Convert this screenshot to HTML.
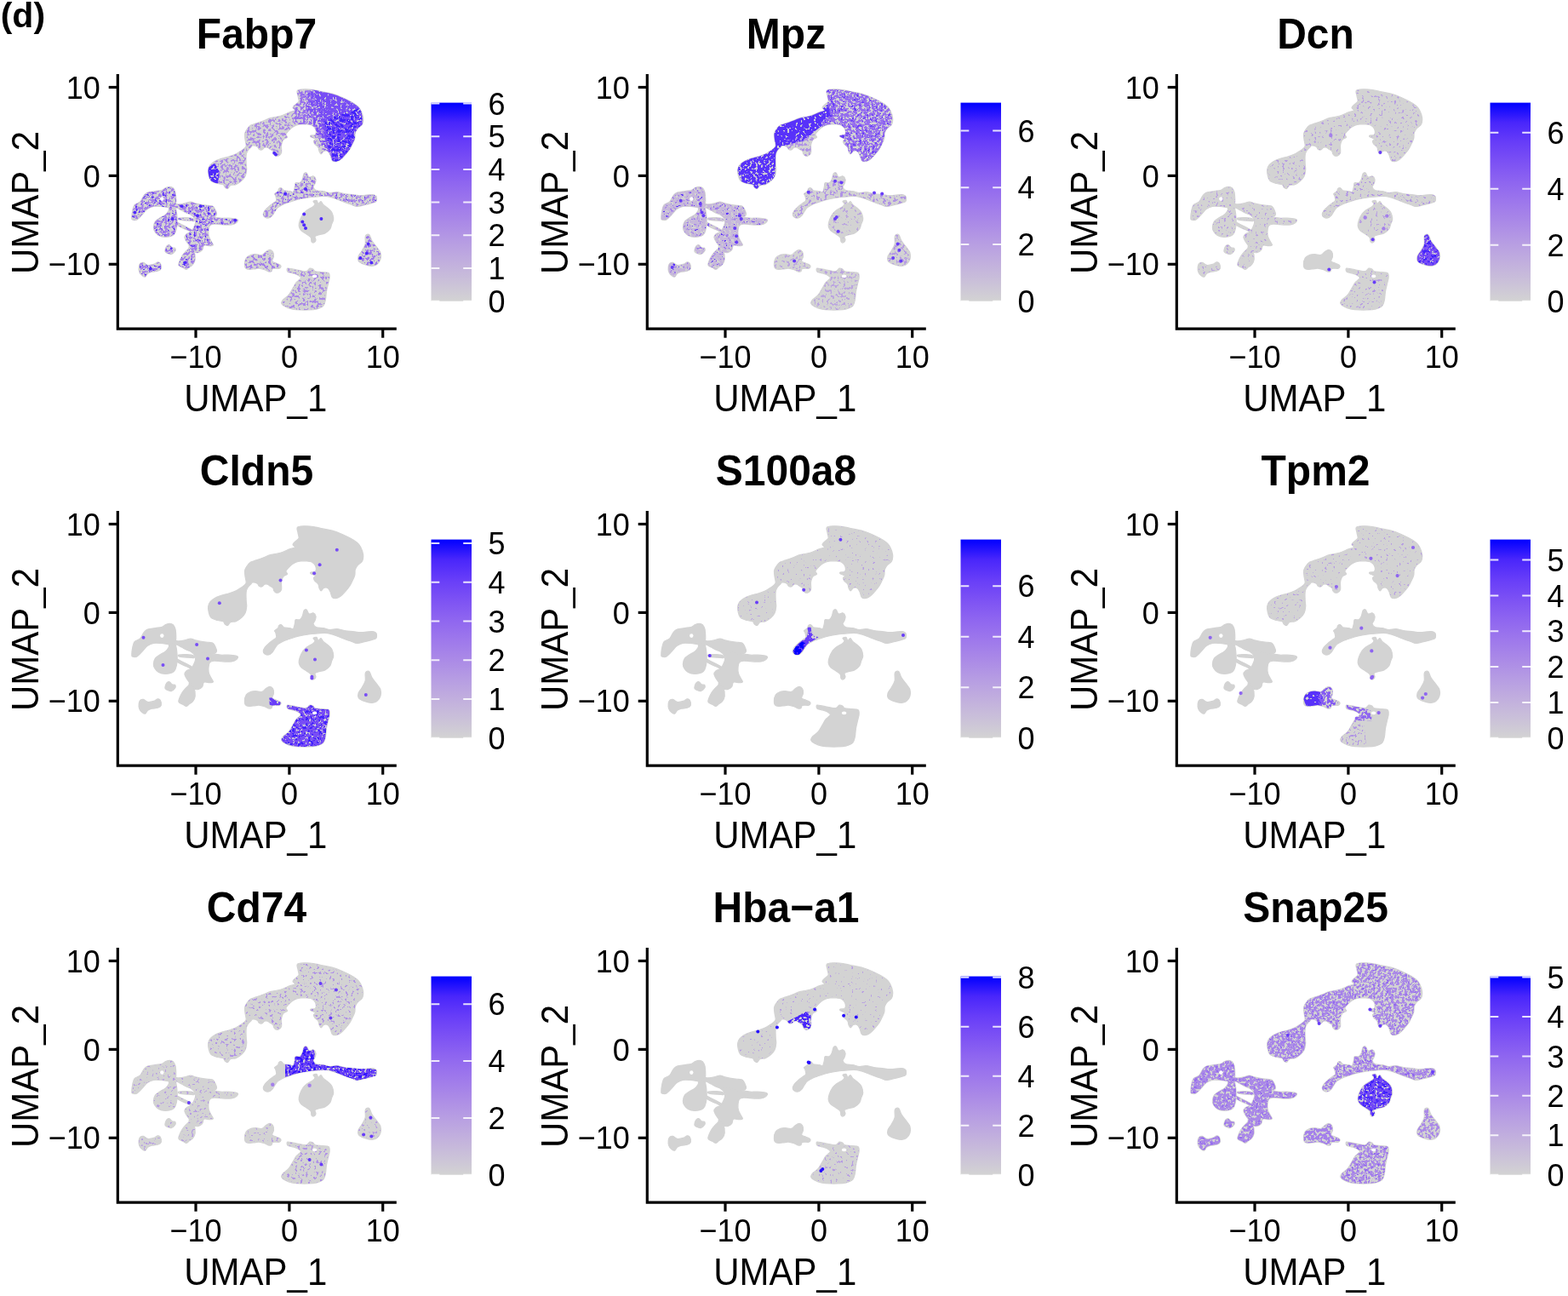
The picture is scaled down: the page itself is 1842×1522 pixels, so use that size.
<!DOCTYPE html>
<html><head><meta charset="utf-8"><title>UMAP feature plots</title>
<style>
html,body{margin:0;padding:0;background:#fff;overflow:hidden}
svg{display:block}
text{font-family:"Liberation Sans",Arial,sans-serif;fill:#000}
.t{font-size:48px;font-weight:bold;text-anchor:middle}
.tk{font-size:36px}
.at{font-size:42px}
.ax{stroke:#000;stroke-width:3.2;fill:none;stroke-linecap:butt}
.cbt{stroke:#fff;stroke-width:2;opacity:.85}
</style></head><body>
<svg width="1842" height="1522" viewBox="0 0 1842 1522">
<defs>
<linearGradient id="cbg" x1="0" y1="1" x2="0" y2="0"><stop offset="0.00" stop-color="#d3d3d3"/><stop offset="0.10" stop-color="#cac0d9"/><stop offset="0.20" stop-color="#c1aede"/><stop offset="0.30" stop-color="#b69ce3"/><stop offset="0.40" stop-color="#aa89e7"/><stop offset="0.50" stop-color="#9d77ec"/><stop offset="0.60" stop-color="#8e65f0"/><stop offset="0.70" stop-color="#7c51f4"/><stop offset="0.80" stop-color="#673df8"/><stop offset="0.90" stop-color="#4926fb"/><stop offset="1.00" stop-color="#0000ff"/></linearGradient>
<path id="s_top" d="M350.0 105.9C352.4 104.7 359.6 104.7 364.1 105.0C368.6 105.3 372.9 106.6 377.2 107.5C381.5 108.4 386.0 109.0 390.2 110.2C394.4 111.4 398.5 113.0 402.1 114.5C405.7 116.0 409.0 117.8 411.9 119.4C414.8 121.0 417.5 122.6 419.5 124.3C421.5 126.0 422.6 127.3 423.8 129.7C425.0 132.0 426.3 135.7 426.6 138.4C426.9 141.1 426.5 144.0 425.5 146.0C424.5 148.0 422.0 148.8 420.6 150.4C419.2 152.0 417.9 153.8 417.3 155.8C416.7 157.8 417.3 160.1 416.8 162.3C416.3 164.5 415.1 166.6 414.1 168.8C413.1 171.0 412.2 173.1 410.8 175.3C409.4 177.5 407.2 179.9 405.4 181.9C403.6 183.9 401.8 186.0 400.0 187.3C398.2 188.6 396.1 189.5 394.5 189.7C392.9 189.9 391.3 189.7 390.2 188.4C389.1 187.1 388.9 183.7 388.0 181.9C387.1 180.1 386.1 178.2 384.8 177.5C383.5 176.8 381.7 176.9 380.4 177.5C379.1 178.1 378.1 180.8 377.2 180.8C376.3 180.8 375.6 178.8 375.0 177.5C374.4 176.2 374.8 174.6 373.9 173.2C373.0 171.8 370.5 170.1 369.6 168.8C368.7 167.5 368.3 166.5 368.5 165.6C368.7 164.7 371.2 164.2 370.6 163.4C370.1 162.6 366.1 161.4 365.2 160.7C364.3 160.0 364.3 159.5 365.2 159.1C366.1 158.7 369.7 159.3 370.6 158.0C371.5 156.7 371.3 153.3 370.6 151.5C369.9 149.7 367.9 148.0 366.3 147.1C364.7 146.2 363.1 146.2 360.9 146.0C358.7 145.8 355.5 145.8 353.3 146.0C351.1 146.2 349.6 146.4 347.8 147.1C346.0 147.8 344.0 149.1 342.4 150.4C340.8 151.7 339.2 153.4 338.1 154.7C337.0 156.0 336.0 156.9 335.9 158.0C335.8 159.1 337.9 160.3 337.5 161.2C337.1 162.1 334.7 162.5 333.7 163.4C332.7 164.3 332.0 165.4 331.5 166.7C331.0 168.0 330.7 168.8 330.5 171.0C330.3 173.2 331.1 177.7 330.5 179.7C329.9 181.7 328.3 182.4 327.2 182.9C326.1 183.4 324.8 183.2 323.9 182.9C323.0 182.6 322.3 181.7 321.8 180.8C321.3 179.9 321.4 178.4 320.7 177.5C320.0 176.6 318.5 176.0 317.4 175.3C316.3 174.6 315.3 173.5 314.2 173.2C313.1 172.8 312.0 172.8 310.9 173.2C309.8 173.6 308.8 175.6 307.7 175.9C306.6 176.2 305.3 175.9 304.4 175.3C303.5 174.7 303.5 172.8 302.2 172.1C300.9 171.4 298.1 170.8 296.8 171.0C295.5 171.2 295.5 172.3 294.6 173.2C293.7 174.1 292.3 174.9 291.4 176.4C290.5 177.9 289.6 179.2 289.2 181.9C288.8 184.6 289.1 189.8 289.2 192.7C289.3 195.6 289.9 196.8 289.7 199.2C289.5 201.5 289.1 204.6 288.1 206.8C287.1 209.0 285.6 210.7 283.8 212.3C282.0 213.9 279.5 215.7 277.3 216.6C275.1 217.5 272.3 216.9 270.7 217.7C269.1 218.5 268.6 221.1 267.5 221.5C266.4 221.9 265.1 220.7 264.2 219.9C263.3 219.1 263.6 217.3 262.1 216.6C260.7 215.9 257.9 216.2 255.5 215.5C253.1 214.8 249.6 213.9 247.9 212.3C246.2 210.7 245.7 207.9 245.2 205.7C244.7 203.5 244.4 201.2 244.7 199.2C245.0 197.2 245.6 195.4 246.9 193.8C248.2 192.2 250.1 190.8 252.3 189.5C254.5 188.2 257.2 187.1 259.9 186.2C262.6 185.3 265.7 184.9 268.6 184.0C271.5 183.1 275.0 181.9 277.3 180.8C279.6 179.7 281.1 178.6 282.7 177.5C284.3 176.4 285.9 175.4 287.0 174.3C288.1 173.2 289.0 172.6 289.2 171.0C289.4 169.4 288.4 166.8 288.1 164.5C287.8 162.2 287.2 159.1 287.6 156.9C288.0 154.7 289.1 153.1 290.3 151.5C291.5 149.9 292.8 148.2 294.6 147.1C296.4 146.0 298.6 145.8 301.1 144.9C303.6 144.0 306.9 142.8 309.8 141.7C312.7 140.6 315.2 139.3 318.5 138.4C321.8 137.5 325.8 137.4 329.4 136.3C333.0 135.2 337.3 133.0 340.2 131.9C343.1 130.8 346.1 130.6 346.7 129.7C347.3 128.8 343.8 127.8 344.0 126.5C344.2 125.2 346.6 123.4 347.8 122.1C349.0 120.8 350.7 120.5 351.1 118.9C351.5 117.3 350.2 114.6 350.0 112.4C349.8 110.2 347.6 107.1 350.0 105.9Z"/><path id="s_L_arch" d="M154.8 256.2C154.8 254.4 155.2 249.9 155.8 247.3C156.4 244.7 156.7 242.1 158.2 240.4C159.7 238.7 162.9 238.8 164.7 237.0C166.5 235.2 167.6 231.4 169.1 229.6C170.6 227.8 171.3 226.9 173.5 226.1C175.7 225.3 179.6 225.1 182.4 224.6C185.2 224.1 188.2 223.9 190.3 223.2C192.4 222.5 193.4 220.8 195.2 220.2C197.0 219.6 199.4 219.2 201.1 219.7C202.8 220.2 204.2 221.5 205.1 223.2C206.0 224.8 206.3 226.9 206.5 229.6C206.7 232.3 206.9 237.1 206.5 239.4C206.1 241.7 205.2 242.6 204.1 243.4C203.0 244.2 201.4 244.3 200.1 244.3C198.8 244.3 198.2 243.7 196.2 243.4C194.2 243.1 190.9 242.6 188.3 242.4C185.7 242.2 182.9 241.9 180.4 242.4C177.9 242.9 175.5 244.0 173.5 245.3C171.5 246.6 169.9 248.9 168.6 250.3C167.3 251.7 166.9 252.4 165.6 253.7C164.3 255.0 162.3 257.4 160.7 258.1C159.1 258.8 156.8 258.4 155.8 258.1C154.8 257.8 154.8 258.0 154.8 256.2Z"/><path id="s_L_bulb" d="M180.4 267.0C180.5 265.0 181.2 261.9 182.4 260.1C183.6 258.3 185.3 257.5 187.3 256.2C189.3 254.9 192.4 253.7 194.2 252.2C196.0 250.7 197.4 248.8 198.2 247.3C199.0 245.8 197.9 244.2 199.1 243.4C200.2 242.6 203.8 241.8 205.1 242.4C206.4 243.1 206.5 245.2 207.0 247.3C207.5 249.4 207.8 252.4 208.0 255.2C208.2 258.0 208.3 261.2 208.0 264.1C207.7 267.1 207.0 270.8 206.0 272.9C205.0 275.0 204.1 276.0 202.1 276.9C200.1 277.8 196.8 278.4 194.2 278.3C191.6 278.2 188.4 277.5 186.3 276.4C184.2 275.3 182.9 273.5 181.9 271.9C180.9 270.3 180.3 269.0 180.4 267.0Z"/><path id="s_L_band" d="M204.1 239.4C205.1 238.8 207.9 240.0 210.0 239.9C212.1 239.8 214.6 239.4 216.9 238.9C219.2 238.4 221.7 237.0 223.8 237.0C225.9 237.0 227.6 238.3 229.7 238.9C231.8 239.5 234.0 240.0 236.6 240.4C239.2 240.8 243.2 241.1 245.5 241.4C247.8 241.7 249.1 241.4 250.4 242.4C251.7 243.4 252.7 245.7 253.3 247.3C254.0 248.9 255.0 250.9 254.3 252.2C253.7 253.5 251.9 254.7 249.4 255.2C246.9 255.7 242.9 255.5 239.6 255.2C236.3 254.9 232.7 253.9 229.7 253.2C226.7 252.5 224.4 252.2 221.8 251.2C219.2 250.2 216.2 248.5 213.9 247.3C211.6 246.2 209.6 245.0 208.0 244.3C206.4 243.7 204.8 244.2 204.1 243.4C203.4 242.6 203.1 240.0 204.1 239.4Z"/><path id="s_L_str1" d="M210.0 256.2C211.5 255.8 216.9 255.5 219.8 255.7C222.8 255.9 226.4 256.5 227.7 257.2C229.0 257.9 229.0 259.3 227.7 259.6C226.4 259.9 222.6 259.4 219.8 259.1C217.0 258.9 212.6 258.6 211.0 258.1C209.4 257.6 208.5 256.6 210.0 256.2Z"/><path id="s_L_str2" d="M208.0 261.1C209.0 261.1 211.6 263.0 213.9 264.1C216.2 265.2 219.7 266.9 221.8 268.0C223.9 269.1 226.0 270.2 226.7 271.0C227.4 271.8 227.0 273.1 225.8 272.9C224.7 272.7 222.0 271.0 219.8 270.0C217.7 269.0 214.9 268.0 212.9 267.0C210.9 266.0 208.8 265.1 208.0 264.1C207.2 263.1 207.0 261.1 208.0 261.1Z"/><path id="s_L_body" d="M223.8 251.2C225.0 250.7 231.0 251.5 234.6 252.2C238.2 252.9 242.5 254.7 245.5 255.2C248.5 255.7 250.1 255.0 252.4 255.2C254.7 255.4 256.7 256.0 259.3 256.2C261.9 256.4 265.2 256.0 268.1 256.2C271.1 256.4 275.1 256.7 277.0 257.2C278.9 257.7 279.8 258.1 279.5 259.1C279.2 260.1 277.1 262.3 275.0 263.1C272.9 263.9 269.7 264.0 267.1 264.1C264.5 264.2 261.9 263.8 259.3 263.6C256.7 263.4 253.6 262.9 251.4 263.1C249.2 263.3 247.5 263.7 246.4 265.0C245.3 266.3 245.2 268.9 245.0 271.0C244.8 273.1 244.9 275.8 245.5 277.9C246.1 280.0 247.6 282.2 248.4 283.8C249.2 285.4 250.7 286.9 250.4 287.7C250.1 288.5 248.2 288.6 246.4 288.7C244.6 288.8 241.1 287.4 239.6 288.2C238.1 289.0 238.8 292.2 237.6 293.6C236.4 295.0 234.3 296.3 232.7 296.6C231.0 296.9 229.3 296.9 227.7 295.6C226.0 294.3 224.1 290.5 222.8 288.7C221.5 286.9 220.8 286.4 219.8 284.8C218.8 283.2 217.1 280.5 216.9 278.8C216.8 277.1 217.6 276.0 218.9 274.9C220.2 273.8 223.3 273.2 224.8 271.9C226.3 270.6 226.9 268.8 227.7 267.0C228.5 265.2 229.7 263.1 229.7 261.1C229.7 259.1 228.7 256.9 227.7 255.2C226.7 253.5 222.7 251.7 223.8 251.2Z"/><path id="s_L_tail" d="M222.8 288.7C223.8 289.2 226.6 292.0 227.7 294.6C228.8 297.2 229.4 301.9 229.2 304.5C229.0 307.1 227.9 308.8 226.7 310.4C225.5 312.0 223.1 313.3 221.8 314.3C220.5 315.3 220.1 316.3 218.9 316.3C217.8 316.3 216.4 315.1 214.9 314.3C213.4 313.5 210.7 312.7 210.0 311.4C209.3 310.1 210.3 308.2 211.0 306.4C211.7 304.6 212.8 302.3 213.9 300.5C215.1 298.7 216.6 297.1 217.9 295.6C219.2 294.1 221.0 292.9 221.8 291.7C222.6 290.5 221.8 288.2 222.8 288.7Z"/><path id="s_L_sm1" d="M194.2 292.6C194.5 291.5 195.4 289.5 196.2 288.7C197.0 287.9 198.1 287.4 199.1 287.7C200.1 288.0 200.9 290.0 202.1 290.7C203.2 291.4 205.5 290.9 206.0 291.7C206.5 292.5 205.9 294.5 205.1 295.6C204.3 296.8 202.4 298.3 201.1 298.6C199.8 298.9 198.3 298.1 197.2 297.6C196.0 297.1 194.7 296.4 194.2 295.6C193.7 294.8 193.9 293.8 194.2 292.6Z"/><path id="s_L_sm2" d="M163.2 313.3C163.4 311.7 163.8 310.2 164.7 309.4C165.6 308.6 167.1 308.1 168.6 308.4C170.1 308.7 171.5 311.1 173.5 311.4C175.5 311.7 178.4 311.0 180.4 310.4C182.4 309.8 184.0 308.1 185.3 307.9C186.6 307.7 187.6 308.2 188.3 309.4C189.0 310.6 189.8 313.8 189.3 315.3C188.8 316.8 187.1 317.7 185.3 318.3C183.5 318.9 180.4 318.7 178.4 319.2C176.4 319.7 174.8 320.2 173.5 321.2C172.2 322.2 171.8 324.9 170.6 325.2C169.4 325.5 167.8 324.2 166.6 323.2C165.4 322.2 164.3 320.8 163.7 319.2C163.1 317.6 163.0 314.9 163.2 313.3Z"/><path id="s_M_band" d="M309.3 251.9C309.3 250.6 310.0 248.9 311.1 247.3C312.2 245.8 314.2 244.0 315.8 242.6C317.4 241.2 319.1 240.1 320.6 238.9C322.1 237.7 324.2 237.1 324.7 235.5C325.2 233.9 324.0 230.9 323.7 229.6C323.4 228.3 322.2 228.4 322.7 227.6C323.2 226.8 325.8 225.6 326.6 224.6C327.4 223.6 326.9 222.3 327.6 221.7C328.3 221.0 329.6 220.4 330.6 220.7C331.6 221.0 331.9 223.0 333.5 223.7C335.1 224.3 338.6 224.3 340.4 224.6C342.2 224.9 343.4 226.4 344.4 225.6C345.4 224.8 345.8 221.5 346.3 219.7C346.8 217.9 346.3 215.6 347.3 214.8C348.3 214.0 350.9 215.5 352.2 214.8C353.5 214.1 354.4 212.6 355.2 210.8C356.0 209.0 356.4 205.2 357.2 203.9C358.0 202.6 359.1 202.3 360.1 203.0C361.1 203.7 361.8 207.2 363.1 207.9C364.4 208.6 366.7 206.4 368.0 206.9C369.3 207.4 370.7 209.3 371.0 210.8C371.3 212.3 370.5 214.3 370.0 215.8C369.5 217.3 367.7 218.4 368.0 219.7C368.3 221.0 370.0 222.9 372.0 223.7C374.0 224.5 377.2 224.1 379.8 224.6C382.4 225.1 385.1 226.4 387.7 226.6C390.3 226.8 392.8 225.4 395.6 225.6C398.4 225.8 401.4 227.1 404.5 227.6C407.6 228.1 411.0 228.3 414.3 228.6C417.6 228.9 420.4 229.6 424.2 229.6C428.0 229.6 434.1 228.4 437.0 228.6C439.9 228.8 441.1 229.3 441.9 230.6C442.7 231.9 442.7 235.2 441.9 236.5C441.1 237.8 439.1 237.8 437.0 238.4C434.9 239.1 432.1 239.7 429.1 240.4C426.2 241.1 421.9 242.4 419.3 242.4C416.7 242.4 415.3 241.1 413.3 240.4C411.3 239.7 409.7 239.2 407.4 238.4C405.1 237.6 402.2 236.5 399.6 235.5C397.0 234.5 394.2 233.3 391.7 232.5C389.2 231.7 387.4 230.9 384.8 230.6C382.2 230.3 379.0 230.4 375.9 230.6C372.8 230.8 369.3 231.1 366.0 231.5C362.7 231.9 359.3 232.4 356.2 233.0C353.1 233.6 349.9 234.3 347.3 235.0C344.7 235.7 342.7 236.5 340.4 237.3C338.1 238.1 335.8 238.6 333.5 239.6C331.2 240.6 328.4 242.1 326.6 243.6C324.8 245.1 324.1 246.8 322.9 248.5C321.7 250.2 320.6 252.4 319.4 253.7C318.2 254.9 317.2 255.8 315.8 256.0C314.4 256.2 312.2 255.7 311.1 255.0C310.0 254.3 309.3 253.2 309.3 251.9Z"/><path id="s_M_round" d="M368.0 236.5C368.3 235.8 371.0 235.0 372.0 235.5C373.0 236.0 373.1 239.2 373.9 239.4C374.7 239.6 375.9 236.3 376.9 236.5C377.9 236.7 378.5 239.1 379.8 240.4C381.1 241.7 383.2 242.8 384.8 244.3C386.4 245.8 388.6 247.2 389.7 249.3C390.8 251.5 391.7 254.9 391.7 257.2C391.7 259.5 390.4 261.1 389.7 263.1C389.0 265.1 389.0 267.2 387.7 269.0C386.4 270.8 384.1 272.8 381.8 273.9C379.5 275.0 375.9 275.2 373.9 275.9C371.9 276.6 370.5 276.9 370.0 277.9C369.5 278.9 371.2 280.6 371.0 281.8C370.8 283.0 369.8 284.5 369.0 284.8C368.2 285.1 366.6 284.8 366.0 283.8C365.4 282.8 366.1 280.3 365.1 278.8C364.1 277.3 361.9 276.2 360.1 274.9C358.3 273.6 355.7 272.5 354.2 271.0C352.7 269.5 351.6 268.0 351.3 266.0C351.0 264.0 351.4 261.6 352.2 259.1C353.0 256.6 354.9 253.2 356.2 251.2C357.5 249.2 358.1 248.8 360.1 247.3C362.1 245.8 366.4 243.7 368.0 242.4C369.6 241.1 370.0 240.4 370.0 239.4C370.0 238.4 367.7 237.2 368.0 236.5Z"/><path id="s_M_tear" d="M430.1 275.9C430.9 275.4 432.9 274.8 434.0 275.9C435.1 277.0 435.5 280.3 437.0 282.8C438.5 285.3 441.2 288.4 442.9 290.7C444.5 293.0 446.2 294.3 446.9 296.6C447.6 298.9 447.6 302.2 446.9 304.5C446.2 306.8 444.5 309.1 442.9 310.4C441.2 311.7 439.0 312.1 437.0 312.3C435.0 312.5 433.1 311.9 431.1 311.4C429.1 310.9 426.9 310.2 425.2 309.4C423.5 308.6 421.9 307.9 421.2 306.4C420.5 304.9 420.5 302.5 421.2 300.5C421.9 298.5 423.9 296.9 425.2 294.6C426.5 292.3 428.5 289.3 429.1 286.7C429.8 284.1 428.9 280.6 429.1 278.8C429.3 277.0 429.3 276.4 430.1 275.9Z"/><path id="s_B_small" d="M287.4 311.4C287.2 309.2 288.0 305.1 289.2 303.1C290.4 301.1 292.9 300.2 294.8 299.4C296.7 298.6 298.2 298.5 300.3 298.5C302.4 298.5 305.7 299.9 307.7 299.4C309.7 298.9 310.8 296.7 312.3 295.7C313.8 294.7 315.5 293.4 316.9 293.4C318.3 293.4 319.8 294.4 320.6 295.7C321.4 297.0 321.6 299.3 321.5 301.2C321.4 303.1 319.1 305.5 319.7 306.8C320.2 308.1 323.2 308.5 324.8 309.2C326.4 309.9 328.2 310.5 329.1 311.2C330.0 311.9 330.2 312.7 330.0 313.4C329.8 314.1 329.4 315.0 327.8 315.3C326.2 315.6 322.1 314.8 320.6 315.4C319.1 316.0 319.7 318.2 318.8 318.8C317.9 319.4 316.3 319.1 315.1 318.8C313.9 318.5 313.2 317.5 311.4 316.9C309.5 316.3 306.3 315.2 304.0 315.1C301.7 315.0 299.8 315.9 297.5 316.0C295.2 316.1 291.8 316.8 290.1 316.0C288.4 315.2 287.5 313.5 287.4 311.4Z"/><path id="s_B_trap" d="M337.7 315.1C338.8 314.6 342.2 315.8 344.6 316.2C347.0 316.6 349.5 317.2 352.0 317.6C354.5 318.0 357.8 319.0 359.8 318.6C361.8 318.2 362.7 315.5 364.0 315.1C365.3 314.7 366.6 315.4 367.7 316.0C368.8 316.6 368.5 318.2 370.4 318.8C372.2 319.4 376.2 319.4 378.8 319.7C381.4 320.0 384.7 319.5 386.1 320.6C387.5 321.7 387.2 323.8 387.1 326.1C387.0 328.4 385.8 331.7 385.2 334.5C384.6 337.3 383.9 339.9 383.4 342.8C382.9 345.7 383.0 349.2 382.4 352.0C381.8 354.8 381.5 357.5 379.7 359.4C377.9 361.2 374.3 362.3 371.4 363.1C368.5 363.9 365.2 363.9 362.1 364.0C359.0 364.1 356.0 364.1 352.9 364.0C349.8 363.9 346.6 363.7 343.7 363.1C340.8 362.5 337.5 361.4 335.4 360.3C333.2 359.2 331.3 358.0 330.8 356.6C330.3 355.2 331.2 353.7 332.6 352.0C334.0 350.3 337.2 348.6 339.1 346.5C341.0 344.4 342.3 341.4 343.7 339.1C345.1 336.8 346.3 334.2 347.4 332.6C348.5 331.1 349.1 330.9 350.1 329.8C351.1 328.7 353.7 327.4 353.4 326.1C353.1 324.9 350.1 323.2 348.3 322.3C346.5 321.4 344.5 321.1 342.8 320.6C341.1 320.1 338.9 320.1 338.0 319.2C337.1 318.3 336.6 315.6 337.7 315.1Z"/>
<filter id="soft" x="-3%" y="-3%" width="106%" height="106%"><feGaussianBlur stdDeviation="0.55"/></filter>
<clipPath id="uclip"><use href="#s_top"/><use href="#s_L_arch"/><use href="#s_L_bulb"/><use href="#s_L_band"/><use href="#s_L_str1"/><use href="#s_L_str2"/><use href="#s_L_body"/><use href="#s_L_tail"/><use href="#s_L_sm1"/><use href="#s_L_sm2"/><use href="#s_M_band"/><use href="#s_M_round"/><use href="#s_M_tear"/><use href="#s_B_small"/><use href="#s_B_trap"/></clipPath>
<g id="umap" fill="#d3d3d3" stroke="#d3d3d3" stroke-width="1.2" stroke-linejoin="round"><use href="#s_top"/><use href="#s_L_arch"/><use href="#s_L_bulb"/><use href="#s_L_band"/><use href="#s_L_str1"/><use href="#s_L_str2"/><use href="#s_L_body"/><use href="#s_L_tail"/><use href="#s_L_sm1"/><use href="#s_L_sm2"/><use href="#s_M_band"/><use href="#s_M_round"/><use href="#s_M_tear"/><use href="#s_B_small"/><use href="#s_B_trap"/></g>
<filter id="f0" x="-5%" y="-5%" width="110%" height="110%" color-interpolation-filters="sRGB"><feTurbulence type="fractalNoise" baseFrequency="0.32" numOctaves="2" seed="10"/><feColorMatrix type="matrix" values="0 0 0 0 0 0 0 0 0 0 0 0 0 0 0 -14 0 0 0 6.977"/><feComposite in="SourceGraphic" operator="in"/></filter><filter id="f1" x="-5%" y="-5%" width="110%" height="110%" color-interpolation-filters="sRGB"><feTurbulence type="fractalNoise" baseFrequency="0.32" numOctaves="2" seed="17"/><feColorMatrix type="matrix" values="0 0 0 0 0 0 0 0 0 0 0 0 0 0 0 -14 0 0 0 7.276"/><feComposite in="SourceGraphic" operator="in"/></filter><filter id="f2" x="-5%" y="-5%" width="110%" height="110%" color-interpolation-filters="sRGB"><feTurbulence type="fractalNoise" baseFrequency="0.32" numOctaves="2" seed="24"/><feColorMatrix type="matrix" values="0 0 0 0 0 0 0 0 0 0 0 0 0 0 0 -14 0 0 0 7.276"/><feComposite in="SourceGraphic" operator="in"/></filter><filter id="f3" x="-5%" y="-5%" width="110%" height="110%" color-interpolation-filters="sRGB"><feTurbulence type="fractalNoise" baseFrequency="0.32" numOctaves="2" seed="31"/><feColorMatrix type="matrix" values="0 0 0 0 0 0 0 0 0 0 0 0 0 0 0 -14 0 0 0 9.681"/><feComposite in="SourceGraphic" operator="in"/></filter><filter id="f4" x="-5%" y="-5%" width="110%" height="110%" color-interpolation-filters="sRGB"><feTurbulence type="fractalNoise" baseFrequency="0.32" numOctaves="2" seed="38"/><feColorMatrix type="matrix" values="0 0 0 0 0 0 0 0 0 0 0 0 0 0 0 -14 0 0 0 7.276"/><feComposite in="SourceGraphic" operator="in"/></filter><filter id="f5" x="-5%" y="-5%" width="110%" height="110%" color-interpolation-filters="sRGB"><feTurbulence type="fractalNoise" baseFrequency="0.32" numOctaves="2" seed="45"/><feColorMatrix type="matrix" values="0 0 0 0 0 0 0 0 0 0 0 0 0 0 0 -14 0 0 0 5.245"/><feComposite in="SourceGraphic" operator="in"/></filter><filter id="f6" x="-5%" y="-5%" width="110%" height="110%" color-interpolation-filters="sRGB"><feTurbulence type="fractalNoise" baseFrequency="0.32" numOctaves="2" seed="52"/><feColorMatrix type="matrix" values="0 0 0 0 0 0 0 0 0 0 0 0 0 0 0 -14 0 0 0 8.655"/><feComposite in="SourceGraphic" operator="in"/></filter><filter id="f7" x="-5%" y="-5%" width="110%" height="110%" color-interpolation-filters="sRGB"><feTurbulence type="fractalNoise" baseFrequency="0.32" numOctaves="2" seed="59"/><feColorMatrix type="matrix" values="0 0 0 0 0 0 0 0 0 0 0 0 0 0 0 -14 0 0 0 7.488"/><feComposite in="SourceGraphic" operator="in"/></filter><filter id="f8" x="-5%" y="-5%" width="110%" height="110%" color-interpolation-filters="sRGB"><feTurbulence type="fractalNoise" baseFrequency="0.32" numOctaves="2" seed="66"/><feColorMatrix type="matrix" values="0 0 0 0 0 0 0 0 0 0 0 0 0 0 0 -14 0 0 0 5.143"/><feComposite in="SourceGraphic" operator="in"/></filter><filter id="f9" x="-5%" y="-5%" width="110%" height="110%" color-interpolation-filters="sRGB"><feTurbulence type="fractalNoise" baseFrequency="0.32" numOctaves="2" seed="73"/><feColorMatrix type="matrix" values="0 0 0 0 0 0 0 0 0 0 0 0 0 0 0 -14 0 0 0 7.064"/><feComposite in="SourceGraphic" operator="in"/></filter><filter id="f10" x="-5%" y="-5%" width="110%" height="110%" color-interpolation-filters="sRGB"><feTurbulence type="fractalNoise" baseFrequency="0.32" numOctaves="2" seed="80"/><feColorMatrix type="matrix" values="0 0 0 0 0 0 0 0 0 0 0 0 0 0 0 -14 0 0 0 4.645"/><feComposite in="SourceGraphic" operator="in"/></filter><filter id="f11" x="-5%" y="-5%" width="110%" height="110%" color-interpolation-filters="sRGB"><feTurbulence type="fractalNoise" baseFrequency="0.32" numOctaves="2" seed="87"/><feColorMatrix type="matrix" values="0 0 0 0 0 0 0 0 0 0 0 0 0 0 0 -14 0 0 0 6.840"/><feComposite in="SourceGraphic" operator="in"/></filter><filter id="f12" x="-5%" y="-5%" width="110%" height="110%" color-interpolation-filters="sRGB"><feTurbulence type="fractalNoise" baseFrequency="0.32" numOctaves="2" seed="94"/><feColorMatrix type="matrix" values="0 0 0 0 0 0 0 0 0 0 0 0 0 0 0 -14 0 0 0 6.840"/><feComposite in="SourceGraphic" operator="in"/></filter><filter id="f13" x="-5%" y="-5%" width="110%" height="110%" color-interpolation-filters="sRGB"><feTurbulence type="fractalNoise" baseFrequency="0.32" numOctaves="2" seed="101"/><feColorMatrix type="matrix" values="0 0 0 0 0 0 0 0 0 0 0 0 0 0 0 -14 0 0 0 6.520"/><feComposite in="SourceGraphic" operator="in"/></filter><filter id="f14" x="-5%" y="-5%" width="110%" height="110%" color-interpolation-filters="sRGB"><feTurbulence type="fractalNoise" baseFrequency="0.32" numOctaves="2" seed="108"/><feColorMatrix type="matrix" values="0 0 0 0 0 0 0 0 0 0 0 0 0 0 0 -14 0 0 0 9.681"/><feComposite in="SourceGraphic" operator="in"/></filter><filter id="f15" x="-5%" y="-5%" width="110%" height="110%" color-interpolation-filters="sRGB"><feTurbulence type="fractalNoise" baseFrequency="0.32" numOctaves="2" seed="115"/><feColorMatrix type="matrix" values="0 0 0 0 0 0 0 0 0 0 0 0 0 0 0 -14 0 0 0 5.636"/><feComposite in="SourceGraphic" operator="in"/></filter><filter id="f16" x="-5%" y="-5%" width="110%" height="110%" color-interpolation-filters="sRGB"><feTurbulence type="fractalNoise" baseFrequency="0.32" numOctaves="2" seed="122"/><feColorMatrix type="matrix" values="0 0 0 0 0 0 0 0 0 0 0 0 0 0 0 -14 0 0 0 8.283"/><feComposite in="SourceGraphic" operator="in"/></filter><filter id="f17" x="-5%" y="-5%" width="110%" height="110%" color-interpolation-filters="sRGB"><feTurbulence type="fractalNoise" baseFrequency="0.32" numOctaves="2" seed="129"/><feColorMatrix type="matrix" values="0 0 0 0 0 0 0 0 0 0 0 0 0 0 0 -14 0 0 0 5.448"/><feComposite in="SourceGraphic" operator="in"/></filter><filter id="f18" x="-5%" y="-5%" width="110%" height="110%" color-interpolation-filters="sRGB"><feTurbulence type="fractalNoise" baseFrequency="0.32" numOctaves="2" seed="136"/><feColorMatrix type="matrix" values="0 0 0 0 0 0 0 0 0 0 0 0 0 0 0 -14 0 0 0 5.042"/><feComposite in="SourceGraphic" operator="in"/></filter><filter id="f19" x="-5%" y="-5%" width="110%" height="110%" color-interpolation-filters="sRGB"><feTurbulence type="fractalNoise" baseFrequency="0.32" numOctaves="2" seed="143"/><feColorMatrix type="matrix" values="0 0 0 0 0 0 0 0 0 0 0 0 0 0 0 -14 0 0 0 6.840"/><feComposite in="SourceGraphic" operator="in"/></filter><filter id="f20" x="-5%" y="-5%" width="110%" height="110%" color-interpolation-filters="sRGB"><feTurbulence type="fractalNoise" baseFrequency="0.32" numOctaves="2" seed="150"/><feColorMatrix type="matrix" values="0 0 0 0 0 0 0 0 0 0 0 0 0 0 0 -14 0 0 0 8.944"/><feComposite in="SourceGraphic" operator="in"/></filter><filter id="f21" x="-5%" y="-5%" width="110%" height="110%" color-interpolation-filters="sRGB"><feTurbulence type="fractalNoise" baseFrequency="0.32" numOctaves="2" seed="157"/><feColorMatrix type="matrix" values="0 0 0 0 0 0 0 0 0 0 0 0 0 0 0 -14 0 0 0 5.042"/><feComposite in="SourceGraphic" operator="in"/></filter><filter id="f22" x="-5%" y="-5%" width="110%" height="110%" color-interpolation-filters="sRGB"><feTurbulence type="fractalNoise" baseFrequency="0.32" numOctaves="2" seed="164"/><feColorMatrix type="matrix" values="0 0 0 0 0 0 0 0 0 0 0 0 0 0 0 -14 0 0 0 4.327"/><feComposite in="SourceGraphic" operator="in"/></filter><filter id="f23" x="-5%" y="-5%" width="110%" height="110%" color-interpolation-filters="sRGB"><feTurbulence type="fractalNoise" baseFrequency="0.32" numOctaves="2" seed="171"/><feColorMatrix type="matrix" values="0 0 0 0 0 0 0 0 0 0 0 0 0 0 0 -14 0 0 0 6.611"/><feComposite in="SourceGraphic" operator="in"/></filter><filter id="f24" x="-5%" y="-5%" width="110%" height="110%" color-interpolation-filters="sRGB"><feTurbulence type="fractalNoise" baseFrequency="0.32" numOctaves="2" seed="178"/><feColorMatrix type="matrix" values="0 0 0 0 0 0 0 0 0 0 0 0 0 0 0 -14 0 0 0 5.448"/><feComposite in="SourceGraphic" operator="in"/></filter><filter id="f25" x="-5%" y="-5%" width="110%" height="110%" color-interpolation-filters="sRGB"><feTurbulence type="fractalNoise" baseFrequency="0.32" numOctaves="2" seed="185"/><feColorMatrix type="matrix" values="0 0 0 0 0 0 0 0 0 0 0 0 0 0 0 -14 0 0 0 6.611"/><feComposite in="SourceGraphic" operator="in"/></filter><filter id="f26" x="-5%" y="-5%" width="110%" height="110%" color-interpolation-filters="sRGB"><feTurbulence type="fractalNoise" baseFrequency="0.32" numOctaves="2" seed="192"/><feColorMatrix type="matrix" values="0 0 0 0 0 0 0 0 0 0 0 0 0 0 0 -14 0 0 0 6.069"/><feComposite in="SourceGraphic" operator="in"/></filter><filter id="f27" x="-5%" y="-5%" width="110%" height="110%" color-interpolation-filters="sRGB"><feTurbulence type="fractalNoise" baseFrequency="0.32" numOctaves="2" seed="199"/><feColorMatrix type="matrix" values="0 0 0 0 0 0 0 0 0 0 0 0 0 0 0 -14 0 0 0 6.213"/><feComposite in="SourceGraphic" operator="in"/></filter><filter id="f28" x="-5%" y="-5%" width="110%" height="110%" color-interpolation-filters="sRGB"><feTurbulence type="fractalNoise" baseFrequency="0.32" numOctaves="2" seed="206"/><feColorMatrix type="matrix" values="0 0 0 0 0 0 0 0 0 0 0 0 0 0 0 -14 0 0 0 10.080"/><feComposite in="SourceGraphic" operator="in"/></filter><filter id="f29" x="-5%" y="-5%" width="110%" height="110%" color-interpolation-filters="sRGB"><feTurbulence type="fractalNoise" baseFrequency="0.32" numOctaves="2" seed="213"/><feColorMatrix type="matrix" values="0 0 0 0 0 0 0 0 0 0 0 0 0 0 0 -14 0 0 0 6.382"/><feComposite in="SourceGraphic" operator="in"/></filter><filter id="f30" x="-5%" y="-5%" width="110%" height="110%" color-interpolation-filters="sRGB"><feTurbulence type="fractalNoise" baseFrequency="0.32" numOctaves="2" seed="220"/><feColorMatrix type="matrix" values="0 0 0 0 0 0 0 0 0 0 0 0 0 0 0 -14 0 0 0 4.941"/><feComposite in="SourceGraphic" operator="in"/></filter><filter id="f31" x="-5%" y="-5%" width="110%" height="110%" color-interpolation-filters="sRGB"><feTurbulence type="fractalNoise" baseFrequency="0.32" numOctaves="2" seed="227"/><feColorMatrix type="matrix" values="0 0 0 0 0 0 0 0 0 0 0 0 0 0 0 -14 0 0 0 5.245"/><feComposite in="SourceGraphic" operator="in"/></filter><filter id="f32" x="-5%" y="-5%" width="110%" height="110%" color-interpolation-filters="sRGB"><feTurbulence type="fractalNoise" baseFrequency="0.32" numOctaves="2" seed="234"/><feColorMatrix type="matrix" values="0 0 0 0 0 0 0 0 0 0 0 0 0 0 0 -14 0 0 0 5.245"/><feComposite in="SourceGraphic" operator="in"/></filter><filter id="f33" x="-5%" y="-5%" width="110%" height="110%" color-interpolation-filters="sRGB"><feTurbulence type="fractalNoise" baseFrequency="0.32" numOctaves="2" seed="241"/><feColorMatrix type="matrix" values="0 0 0 0 0 0 0 0 0 0 0 0 0 0 0 -14 0 0 0 5.448"/><feComposite in="SourceGraphic" operator="in"/></filter><filter id="f34" x="-5%" y="-5%" width="110%" height="110%" color-interpolation-filters="sRGB"><feTurbulence type="fractalNoise" baseFrequency="0.32" numOctaves="2" seed="248"/><feColorMatrix type="matrix" values="0 0 0 0 0 0 0 0 0 0 0 0 0 0 0 -14 0 0 0 5.245"/><feComposite in="SourceGraphic" operator="in"/></filter><filter id="f35" x="-5%" y="-5%" width="110%" height="110%" color-interpolation-filters="sRGB"><feTurbulence type="fractalNoise" baseFrequency="0.32" numOctaves="2" seed="255"/><feColorMatrix type="matrix" values="0 0 0 0 0 0 0 0 0 0 0 0 0 0 0 -14 0 0 0 5.042"/><feComposite in="SourceGraphic" operator="in"/></filter><filter id="f36" x="-5%" y="-5%" width="110%" height="110%" color-interpolation-filters="sRGB"><feTurbulence type="fractalNoise" baseFrequency="0.32" numOctaves="2" seed="262"/><feColorMatrix type="matrix" values="0 0 0 0 0 0 0 0 0 0 0 0 0 0 0 -14 0 0 0 9.893"/><feComposite in="SourceGraphic" operator="in"/></filter><filter id="f37" x="-5%" y="-5%" width="110%" height="110%" color-interpolation-filters="sRGB"><feTurbulence type="fractalNoise" baseFrequency="0.32" numOctaves="2" seed="269"/><feColorMatrix type="matrix" values="0 0 0 0 0 0 0 0 0 0 0 0 0 0 0 -14 0 0 0 6.382"/><feComposite in="SourceGraphic" operator="in"/></filter><filter id="f38" x="-5%" y="-5%" width="110%" height="110%" color-interpolation-filters="sRGB"><feTurbulence type="fractalNoise" baseFrequency="0.32" numOctaves="2" seed="276"/><feColorMatrix type="matrix" values="0 0 0 0 0 0 0 0 0 0 0 0 0 0 0 -14 0 0 0 4.941"/><feComposite in="SourceGraphic" operator="in"/></filter><filter id="f39" x="-5%" y="-5%" width="110%" height="110%" color-interpolation-filters="sRGB"><feTurbulence type="fractalNoise" baseFrequency="0.32" numOctaves="2" seed="283"/><feColorMatrix type="matrix" values="0 0 0 0 0 0 0 0 0 0 0 0 0 0 0 -14 0 0 0 9.681"/><feComposite in="SourceGraphic" operator="in"/></filter><filter id="f40" x="-5%" y="-5%" width="110%" height="110%" color-interpolation-filters="sRGB"><feTurbulence type="fractalNoise" baseFrequency="0.32" numOctaves="2" seed="290"/><feColorMatrix type="matrix" values="0 0 0 0 0 0 0 0 0 0 0 0 0 0 0 -14 0 0 0 10.453"/><feComposite in="SourceGraphic" operator="in"/></filter><filter id="f41" x="-5%" y="-5%" width="110%" height="110%" color-interpolation-filters="sRGB"><feTurbulence type="fractalNoise" baseFrequency="0.32" numOctaves="2" seed="297"/><feColorMatrix type="matrix" values="0 0 0 0 0 0 0 0 0 0 0 0 0 0 0 -14 0 0 0 9.283"/><feComposite in="SourceGraphic" operator="in"/></filter><filter id="f42" x="-5%" y="-5%" width="110%" height="110%" color-interpolation-filters="sRGB"><feTurbulence type="fractalNoise" baseFrequency="0.32" numOctaves="2" seed="304"/><feColorMatrix type="matrix" values="0 0 0 0 0 0 0 0 0 0 0 0 0 0 0 -14 0 0 0 6.382"/><feComposite in="SourceGraphic" operator="in"/></filter><filter id="f43" x="-5%" y="-5%" width="110%" height="110%" color-interpolation-filters="sRGB"><feTurbulence type="fractalNoise" baseFrequency="0.32" numOctaves="2" seed="311"/><feColorMatrix type="matrix" values="0 0 0 0 0 0 0 0 0 0 0 0 0 0 0 -14 0 0 0 4.407"/><feComposite in="SourceGraphic" operator="in"/></filter><filter id="f44" x="-5%" y="-5%" width="110%" height="110%" color-interpolation-filters="sRGB"><feTurbulence type="fractalNoise" baseFrequency="0.32" numOctaves="2" seed="318"/><feColorMatrix type="matrix" values="0 0 0 0 0 0 0 0 0 0 0 0 0 0 0 -14 0 0 0 9.681"/><feComposite in="SourceGraphic" operator="in"/></filter><filter id="f45" x="-5%" y="-5%" width="110%" height="110%" color-interpolation-filters="sRGB"><feTurbulence type="fractalNoise" baseFrequency="0.32" numOctaves="2" seed="325"/><feColorMatrix type="matrix" values="0 0 0 0 0 0 0 0 0 0 0 0 0 0 0 -14 0 0 0 7.924"/><feComposite in="SourceGraphic" operator="in"/></filter><filter id="f46" x="-5%" y="-5%" width="110%" height="110%" color-interpolation-filters="sRGB"><feTurbulence type="fractalNoise" baseFrequency="0.32" numOctaves="2" seed="332"/><feColorMatrix type="matrix" values="0 0 0 0 0 0 0 0 0 0 0 0 0 0 0 -14 0 0 0 7.924"/><feComposite in="SourceGraphic" operator="in"/></filter><filter id="f47" x="-5%" y="-5%" width="110%" height="110%" color-interpolation-filters="sRGB"><feTurbulence type="fractalNoise" baseFrequency="0.32" numOctaves="2" seed="339"/><feColorMatrix type="matrix" values="0 0 0 0 0 0 0 0 0 0 0 0 0 0 0 -14 0 0 0 6.069"/><feComposite in="SourceGraphic" operator="in"/></filter><filter id="f48" x="-5%" y="-5%" width="110%" height="110%" color-interpolation-filters="sRGB"><feTurbulence type="fractalNoise" baseFrequency="0.32" numOctaves="2" seed="346"/><feColorMatrix type="matrix" values="0 0 0 0 0 0 0 0 0 0 0 0 0 0 0 -14 0 0 0 4.645"/><feComposite in="SourceGraphic" operator="in"/></filter><filter id="f49" x="-5%" y="-5%" width="110%" height="110%" color-interpolation-filters="sRGB"><feTurbulence type="fractalNoise" baseFrequency="0.32" numOctaves="2" seed="353"/><feColorMatrix type="matrix" values="0 0 0 0 0 0 0 0 0 0 0 0 0 0 0 -14 0 0 0 9.893"/><feComposite in="SourceGraphic" operator="in"/></filter><filter id="f50" x="-5%" y="-5%" width="110%" height="110%" color-interpolation-filters="sRGB"><feTurbulence type="fractalNoise" baseFrequency="0.32" numOctaves="2" seed="360"/><feColorMatrix type="matrix" values="0 0 0 0 0 0 0 0 0 0 0 0 0 0 0 -14 0 0 0 6.611"/><feComposite in="SourceGraphic" operator="in"/></filter><filter id="f51" x="-5%" y="-5%" width="110%" height="110%" color-interpolation-filters="sRGB"><feTurbulence type="fractalNoise" baseFrequency="0.32" numOctaves="2" seed="367"/><feColorMatrix type="matrix" values="0 0 0 0 0 0 0 0 0 0 0 0 0 0 0 -14 0 0 0 5.042"/><feComposite in="SourceGraphic" operator="in"/></filter><filter id="f52" x="-5%" y="-5%" width="110%" height="110%" color-interpolation-filters="sRGB"><feTurbulence type="fractalNoise" baseFrequency="0.32" numOctaves="2" seed="374"/><feColorMatrix type="matrix" values="0 0 0 0 0 0 0 0 0 0 0 0 0 0 0 -14 0 0 0 5.448"/><feComposite in="SourceGraphic" operator="in"/></filter><filter id="f53" x="-5%" y="-5%" width="110%" height="110%" color-interpolation-filters="sRGB"><feTurbulence type="fractalNoise" baseFrequency="0.32" numOctaves="2" seed="381"/><feColorMatrix type="matrix" values="0 0 0 0 0 0 0 0 0 0 0 0 0 0 0 -14 0 0 0 5.245"/><feComposite in="SourceGraphic" operator="in"/></filter><filter id="f54" x="-5%" y="-5%" width="110%" height="110%" color-interpolation-filters="sRGB"><feTurbulence type="fractalNoise" baseFrequency="0.32" numOctaves="2" seed="388"/><feColorMatrix type="matrix" values="0 0 0 0 0 0 0 0 0 0 0 0 0 0 0 -14 0 0 0 5.708"/><feComposite in="SourceGraphic" operator="in"/></filter><filter id="f55" x="-5%" y="-5%" width="110%" height="110%" color-interpolation-filters="sRGB"><feTurbulence type="fractalNoise" baseFrequency="0.32" numOctaves="2" seed="395"/><feColorMatrix type="matrix" values="0 0 0 0 0 0 0 0 0 0 0 0 0 0 0 -14 0 0 0 5.245"/><feComposite in="SourceGraphic" operator="in"/></filter><filter id="f56" x="-5%" y="-5%" width="110%" height="110%" color-interpolation-filters="sRGB"><feTurbulence type="fractalNoise" baseFrequency="0.32" numOctaves="2" seed="402"/><feColorMatrix type="matrix" values="0 0 0 0 0 0 0 0 0 0 0 0 0 0 0 -14 0 0 0 5.245"/><feComposite in="SourceGraphic" operator="in"/></filter><filter id="f57" x="-5%" y="-5%" width="110%" height="110%" color-interpolation-filters="sRGB"><feTurbulence type="fractalNoise" baseFrequency="0.32" numOctaves="2" seed="409"/><feColorMatrix type="matrix" values="0 0 0 0 0 0 0 0 0 0 0 0 0 0 0 -14 0 0 0 8.373"/><feComposite in="SourceGraphic" operator="in"/></filter><filter id="f58" x="-5%" y="-5%" width="110%" height="110%" color-interpolation-filters="sRGB"><feTurbulence type="fractalNoise" baseFrequency="0.32" numOctaves="2" seed="416"/><feColorMatrix type="matrix" values="0 0 0 0 0 0 0 0 0 0 0 0 0 0 0 -14 0 0 0 4.327"/><feComposite in="SourceGraphic" operator="in"/></filter><filter id="f59" x="-5%" y="-5%" width="110%" height="110%" color-interpolation-filters="sRGB"><feTurbulence type="fractalNoise" baseFrequency="0.32" numOctaves="2" seed="423"/><feColorMatrix type="matrix" values="0 0 0 0 0 0 0 0 0 0 0 0 0 0 0 -14 0 0 0 5.042"/><feComposite in="SourceGraphic" operator="in"/></filter><filter id="f60" x="-5%" y="-5%" width="110%" height="110%" color-interpolation-filters="sRGB"><feTurbulence type="fractalNoise" baseFrequency="0.32" numOctaves="2" seed="430"/><feColorMatrix type="matrix" values="0 0 0 0 0 0 0 0 0 0 0 0 0 0 0 -14 0 0 0 7.573"/><feComposite in="SourceGraphic" operator="in"/></filter><filter id="f61" x="-5%" y="-5%" width="110%" height="110%" color-interpolation-filters="sRGB"><feTurbulence type="fractalNoise" baseFrequency="0.32" numOctaves="2" seed="437"/><feColorMatrix type="matrix" values="0 0 0 0 0 0 0 0 0 0 0 0 0 0 0 -14 0 0 0 5.245"/><feComposite in="SourceGraphic" operator="in"/></filter><filter id="f62" x="-5%" y="-5%" width="110%" height="110%" color-interpolation-filters="sRGB"><feTurbulence type="fractalNoise" baseFrequency="0.32" numOctaves="2" seed="444"/><feColorMatrix type="matrix" values="0 0 0 0 0 0 0 0 0 0 0 0 0 0 0 -14 0 0 0 6.382"/><feComposite in="SourceGraphic" operator="in"/></filter><filter id="f63" x="-5%" y="-5%" width="110%" height="110%" color-interpolation-filters="sRGB"><feTurbulence type="fractalNoise" baseFrequency="0.32" numOctaves="2" seed="451"/><feColorMatrix type="matrix" values="0 0 0 0 0 0 0 0 0 0 0 0 0 0 0 -14 0 0 0 8.655"/><feComposite in="SourceGraphic" operator="in"/></filter><filter id="f64" x="-5%" y="-5%" width="110%" height="110%" color-interpolation-filters="sRGB"><feTurbulence type="fractalNoise" baseFrequency="0.32" numOctaves="2" seed="458"/><feColorMatrix type="matrix" values="0 0 0 0 0 0 0 0 0 0 0 0 0 0 0 -14 0 0 0 5.448"/><feComposite in="SourceGraphic" operator="in"/></filter><filter id="f65" x="-5%" y="-5%" width="110%" height="110%" color-interpolation-filters="sRGB"><feTurbulence type="fractalNoise" baseFrequency="0.32" numOctaves="2" seed="465"/><feColorMatrix type="matrix" values="0 0 0 0 0 0 0 0 0 0 0 0 0 0 0 -14 0 0 0 7.924"/><feComposite in="SourceGraphic" operator="in"/></filter><filter id="f66" x="-5%" y="-5%" width="110%" height="110%" color-interpolation-filters="sRGB"><feTurbulence type="fractalNoise" baseFrequency="0.32" numOctaves="2" seed="472"/><feColorMatrix type="matrix" values="0 0 0 0 0 0 0 0 0 0 0 0 0 0 0 -14 0 0 0 5.245"/><feComposite in="SourceGraphic" operator="in"/></filter><filter id="f67" x="-5%" y="-5%" width="110%" height="110%" color-interpolation-filters="sRGB"><feTurbulence type="fractalNoise" baseFrequency="0.32" numOctaves="2" seed="479"/><feColorMatrix type="matrix" values="0 0 0 0 0 0 0 0 0 0 0 0 0 0 0 -14 0 0 0 9.283"/><feComposite in="SourceGraphic" operator="in"/></filter><filter id="f68" x="-5%" y="-5%" width="110%" height="110%" color-interpolation-filters="sRGB"><feTurbulence type="fractalNoise" baseFrequency="0.32" numOctaves="2" seed="486"/><feColorMatrix type="matrix" values="0 0 0 0 0 0 0 0 0 0 0 0 0 0 0 -14 0 0 0 6.611"/><feComposite in="SourceGraphic" operator="in"/></filter><filter id="f69" x="-5%" y="-5%" width="110%" height="110%" color-interpolation-filters="sRGB"><feTurbulence type="fractalNoise" baseFrequency="0.32" numOctaves="2" seed="493"/><feColorMatrix type="matrix" values="0 0 0 0 0 0 0 0 0 0 0 0 0 0 0 -14 0 0 0 4.805"/><feComposite in="SourceGraphic" operator="in"/></filter><filter id="f70" x="-5%" y="-5%" width="110%" height="110%" color-interpolation-filters="sRGB"><feTurbulence type="fractalNoise" baseFrequency="0.32" numOctaves="2" seed="500"/><feColorMatrix type="matrix" values="0 0 0 0 0 0 0 0 0 0 0 0 0 0 0 -14 0 0 0 7.488"/><feComposite in="SourceGraphic" operator="in"/></filter><filter id="f71" x="-5%" y="-5%" width="110%" height="110%" color-interpolation-filters="sRGB"><feTurbulence type="fractalNoise" baseFrequency="0.32" numOctaves="2" seed="507"/><feColorMatrix type="matrix" values="0 0 0 0 0 0 0 0 0 0 0 0 0 0 0 -14 0 0 0 8.149"/><feComposite in="SourceGraphic" operator="in"/></filter><filter id="f72" x="-5%" y="-5%" width="110%" height="110%" color-interpolation-filters="sRGB"><feTurbulence type="fractalNoise" baseFrequency="0.32" numOctaves="2" seed="514"/><feColorMatrix type="matrix" values="0 0 0 0 0 0 0 0 0 0 0 0 0 0 0 -14 0 0 0 7.700"/><feComposite in="SourceGraphic" operator="in"/></filter><filter id="f73" x="-5%" y="-5%" width="110%" height="110%" color-interpolation-filters="sRGB"><feTurbulence type="fractalNoise" baseFrequency="0.32" numOctaves="2" seed="521"/><feColorMatrix type="matrix" values="0 0 0 0 0 0 0 0 0 0 0 0 0 0 0 -14 0 0 0 5.042"/><feComposite in="SourceGraphic" operator="in"/></filter>
</defs>
<rect width="1842" height="1522" fill="#fff"/>
<text x="0.7" y="32.3" style="font-size:41px;font-weight:bold">(d)</text>
<g transform="translate(0,0)">
<text class="t" transform="translate(301.5,56.8) scale(1,1.041)">Fabp7</text>
<g filter="url(#soft)"><use href="#umap"/>
<g clip-path="url(#uclip)"><g filter="url(#f0)"><use href="#s_top" fill="#aa89e7"/></g><g filter="url(#f1)"><polygon fill="#966eee" points="344.3,107.9 371.9,105.1 379.2,155.7 360.8,150.2 346.1,142.8 340.6,128.1"/></g><g filter="url(#f2)"><polygon fill="#7c51f4" points="359.0,106.0 369.1,105.7 371.5,122.6 375.9,137.3 379.6,153.9 384.4,174.1 390.6,189.2 382.9,181.5 375.6,164.9 368.2,150.2 360.8,131.8"/></g><g filter="url(#f3)"><polygon fill="#784ef5" points="368.2,105.1 397.6,109.7 424.3,126.3 426.2,150.2 416.0,174.1 401.3,190.7 390.6,189.2 384.4,174.1 379.6,153.9 375.9,137.3 371.5,122.6"/></g><g filter="url(#f4)"><polygon fill="#4121fc" points="381.1,141.0 424.3,126.3 426.2,150.2 416.0,174.1 401.3,190.7 391.2,189.2 385.7,174.1"/></g><g filter="url(#f5)"><polygon fill="#cfcad6" points="368.2,105.1 397.6,109.7 424.3,126.3 426.2,150.2 416.0,174.1 401.3,190.7 390.6,189.2 384.4,174.1 379.6,153.9 375.9,137.3 371.5,122.6"/></g><g filter="url(#f6)"><polygon fill="#502bfb" points="243.1,198.1 252.3,191.6 257.8,201.7 255.9,215.5 248.6,215.5 243.1,207.3"/></g><g filter="url(#f7)"><use href="#s_L_arch" fill="#a480ea"/><use href="#s_L_bulb" fill="#a480ea"/><use href="#s_L_band" fill="#a480ea"/><use href="#s_L_str1" fill="#a480ea"/><use href="#s_L_str2" fill="#a480ea"/><use href="#s_L_body" fill="#a480ea"/><use href="#s_L_tail" fill="#a480ea"/><use href="#s_L_sm1" fill="#a480ea"/><use href="#s_L_sm2" fill="#a480ea"/></g><g filter="url(#f8)"><use href="#s_L_arch" fill="#5932fa"/><use href="#s_L_bulb" fill="#5932fa"/><use href="#s_L_band" fill="#5932fa"/><use href="#s_L_str1" fill="#5932fa"/><use href="#s_L_str2" fill="#5932fa"/><use href="#s_L_body" fill="#5932fa"/><use href="#s_L_tail" fill="#5932fa"/><use href="#s_L_sm1" fill="#5932fa"/><use href="#s_L_sm2" fill="#5932fa"/></g><g filter="url(#f9)"><use href="#s_M_band" fill="#aa89e7"/></g><g filter="url(#f10)"><use href="#s_M_band" fill="#673df8"/></g><g filter="url(#f11)"><use href="#s_M_tear" fill="#9d77ec"/></g><g filter="url(#f12)"><use href="#s_B_small" fill="#a480ea"/></g><g filter="url(#f13)"><use href="#s_B_trap" fill="#aa89e7"/></g></g><g fill="#fff"><ellipse cx="190.3" cy="233.6" rx="2.2" ry="2.4"/><ellipse cx="369.6" cy="324.4" rx="2.8" ry="1.8"/></g><circle cx="357.2" cy="251.4" r="2.0" fill="#502bfb"/><circle cx="355.3" cy="260.6" r="2.0" fill="#502bfb"/><circle cx="359.0" cy="268.0" r="2.0" fill="#502bfb"/><circle cx="357.2" cy="264.3" r="2.0" fill="#502bfb"/><circle cx="377.4" cy="256.9" r="2.0" fill="#502bfb"/><circle cx="335.1" cy="227.5" r="2.0" fill="#502bfb"/><circle cx="359.0" cy="222.0" r="2.0" fill="#502bfb"/><circle cx="432.6" cy="286.4" r="2.0" fill="#502bfb"/><circle cx="430.8" cy="297.4" r="2.0" fill="#502bfb"/><circle cx="423.4" cy="302.9" r="2.0" fill="#502bfb"/><circle cx="436.3" cy="308.5" r="2.0" fill="#502bfb"/><circle cx="213.6" cy="242.2" r="2.0" fill="#502bfb"/><circle cx="232.0" cy="253.3" r="2.0" fill="#502bfb"/><circle cx="235.7" cy="242.2" r="2.0" fill="#502bfb"/><circle cx="276.2" cy="258.8" r="2.0" fill="#502bfb"/><circle cx="202.6" cy="256.9" r="2.0" fill="#502bfb"/><circle cx="176.8" cy="315.8" r="2.0" fill="#502bfb"/><circle cx="217.3" cy="308.5" r="2.0" fill="#502bfb"/><circle cx="322.2" cy="179.7" r="2.0" fill="#502bfb"/><circle cx="324.0" cy="181.5" r="2.0" fill="#502bfb"/><circle cx="158.4" cy="249.6" r="2.0" fill="#502bfb"/>
</g>
<path class="ax" d="M138.3 86.9 V386.2 H465.8"/>
<path class="ax" d="M230.0 386.2 V396.7"/>
<text class="tk" transform="translate(230.0,432.3) scale(1,1.041)" text-anchor="middle">−10</text>
<path class="ax" d="M339.9 386.2 V396.7"/>
<text class="tk" transform="translate(339.9,432.3) scale(1,1.041)" text-anchor="middle">0</text>
<path class="ax" d="M449.7 386.2 V396.7"/>
<text class="tk" transform="translate(449.7,432.3) scale(1,1.041)" text-anchor="middle">10</text>
<path class="ax" d="M127.7 102.5 H138.3"/>
<text class="tk" transform="translate(117.8,115.6) scale(1,1.041)" text-anchor="end">10</text>
<path class="ax" d="M127.7 206.4 H138.3"/>
<text class="tk" transform="translate(117.8,219.5) scale(1,1.041)" text-anchor="end">0</text>
<path class="ax" d="M127.7 310.3 H138.3"/>
<text class="tk" transform="translate(117.8,323.4) scale(1,1.041)" text-anchor="end">−10</text>
<text class="at" transform="translate(300.3,482.9) scale(1,1.041)" text-anchor="middle">UMAP_1</text>
<text class="at" transform="translate(44.8,238) rotate(-90) scale(1,1.041)" text-anchor="middle">UMAP_2</text>
<rect x="506.5" y="120.6" width="47.5" height="233.1" fill="url(#cbg)"/>
<path class="cbt" d="M506.5 353.7H516.3M544.2 353.7H554.0"/>
<text class="tk" transform="translate(573.4,366.8) scale(1,1.041)">0</text>
<path class="cbt" d="M506.5 315.0H516.3M544.2 315.0H554.0"/>
<text class="tk" transform="translate(573.4,328.1) scale(1,1.041)">1</text>
<path class="cbt" d="M506.5 276.3H516.3M544.2 276.3H554.0"/>
<text class="tk" transform="translate(573.4,289.4) scale(1,1.041)">2</text>
<path class="cbt" d="M506.5 237.6H516.3M544.2 237.6H554.0"/>
<text class="tk" transform="translate(573.4,250.7) scale(1,1.041)">3</text>
<path class="cbt" d="M506.5 198.9H516.3M544.2 198.9H554.0"/>
<text class="tk" transform="translate(573.4,212.0) scale(1,1.041)">4</text>
<path class="cbt" d="M506.5 160.2H516.3M544.2 160.2H554.0"/>
<text class="tk" transform="translate(573.4,173.3) scale(1,1.041)">5</text>
<path class="cbt" d="M506.5 121.6H516.3M544.2 121.6H554.0"/>
<text class="tk" transform="translate(573.4,134.7) scale(1,1.041)">6</text>
</g>
<g transform="translate(622,0)">
<text class="t" transform="translate(301.5,56.8) scale(1,1.041)">Mpz</text>
<g filter="url(#soft)"><use href="#umap"/>
<g clip-path="url(#uclip)"><g filter="url(#f14)"><polygon fill="#5932fa" points="243.1,198.1 257.8,181.5 285.4,174.1 287.2,150.2 301.9,141.0 324.0,136.4 342.4,130.0 347.9,124.4 356.2,118.9 360.8,131.8 351.6,141.0 342.4,148.4 333.2,155.7 324.0,164.9 305.6,169.5 293.7,174.1 289.4,187.0 288.1,209.1 268.8,222.9 250.4,216.5"/></g><g filter="url(#f15)"><polygon fill="#cfcad6" points="243.1,198.1 257.8,181.5 285.4,174.1 289.4,187.0 288.1,209.1 268.8,222.9 250.4,216.5"/></g><g filter="url(#f16)"><polygon fill="#966eee" points="346.1,104.2 434.4,109.7 434.4,198.1 351.6,198.1 342.4,142.8 353.5,135.5"/></g><g filter="url(#f17)"><polygon fill="#673df8" points="346.1,104.2 434.4,109.7 434.4,198.1 351.6,198.1 342.4,142.8 353.5,135.5"/></g><g filter="url(#f18)"><polygon fill="#d0cdd5" points="346.1,104.2 434.4,109.7 434.4,198.1 351.6,198.1 342.4,142.8 353.5,135.5"/></g><g filter="url(#f19)"><polygon fill="#b093e5" points="300.1,164.9 335.1,157.6 335.1,187.0 300.1,187.0"/></g><g filter="url(#f20)"><use href="#s_L_arch" fill="#c6b7db"/><use href="#s_L_bulb" fill="#c6b7db"/><use href="#s_L_band" fill="#c6b7db"/><use href="#s_L_str1" fill="#c6b7db"/><use href="#s_L_str2" fill="#c6b7db"/><use href="#s_L_body" fill="#c6b7db"/><use href="#s_L_tail" fill="#c6b7db"/><use href="#s_L_sm1" fill="#c6b7db"/><use href="#s_L_sm2" fill="#c6b7db"/></g><g filter="url(#f21)"><use href="#s_L_arch" fill="#9d77ec"/><use href="#s_L_bulb" fill="#9d77ec"/><use href="#s_L_band" fill="#9d77ec"/><use href="#s_L_str1" fill="#9d77ec"/><use href="#s_L_str2" fill="#9d77ec"/><use href="#s_L_body" fill="#9d77ec"/><use href="#s_L_tail" fill="#9d77ec"/><use href="#s_L_sm1" fill="#9d77ec"/><use href="#s_L_sm2" fill="#9d77ec"/></g><g filter="url(#f22)"><use href="#s_L_arch" fill="#5932fa"/><use href="#s_L_bulb" fill="#5932fa"/><use href="#s_L_band" fill="#5932fa"/><use href="#s_L_str1" fill="#5932fa"/><use href="#s_L_str2" fill="#5932fa"/><use href="#s_L_body" fill="#5932fa"/><use href="#s_L_tail" fill="#5932fa"/><use href="#s_L_sm1" fill="#5932fa"/><use href="#s_L_sm2" fill="#5932fa"/></g><g filter="url(#f23)"><use href="#s_M_band" fill="#b093e5"/></g><g filter="url(#f24)"><use href="#s_M_round" fill="#bba5e0"/></g><g filter="url(#f25)"><use href="#s_M_tear" fill="#b69ce3"/></g><g filter="url(#f26)"><use href="#s_B_small" fill="#bba5e0"/></g><g filter="url(#f27)"><use href="#s_B_trap" fill="#bba5e0"/></g></g><g fill="#fff"><ellipse cx="190.3" cy="233.6" rx="2.2" ry="2.4"/><ellipse cx="369.6" cy="324.4" rx="2.8" ry="1.8"/></g><circle cx="359.0" cy="212.8" r="2.0" fill="#673df8"/><circle cx="366.4" cy="214.6" r="2.0" fill="#673df8"/><circle cx="327.7" cy="225.7" r="2.0" fill="#673df8"/><circle cx="359.0" cy="256.9" r="2.0" fill="#673df8"/><circle cx="360.8" cy="255.1" r="2.0" fill="#673df8"/><circle cx="362.7" cy="271.7" r="2.0" fill="#673df8"/><circle cx="427.1" cy="302.9" r="2.0" fill="#673df8"/><circle cx="436.3" cy="306.6" r="2.0" fill="#673df8"/><circle cx="432.6" cy="286.4" r="2.0" fill="#673df8"/><circle cx="434.4" cy="293.7" r="2.0" fill="#673df8"/><circle cx="202.6" cy="249.6" r="2.0" fill="#673df8"/><circle cx="204.4" cy="253.3" r="2.0" fill="#673df8"/><circle cx="246.7" cy="253.3" r="2.0" fill="#673df8"/><circle cx="248.6" cy="256.9" r="2.0" fill="#673df8"/><circle cx="241.2" cy="268.0" r="2.0" fill="#673df8"/><circle cx="243.1" cy="277.2" r="2.0" fill="#673df8"/><circle cx="243.1" cy="284.5" r="2.0" fill="#673df8"/><circle cx="167.6" cy="314.0" r="2.0" fill="#673df8"/><circle cx="177.7" cy="235.8" r="2.0" fill="#673df8"/><circle cx="200.7" cy="239.5" r="2.0" fill="#673df8"/><circle cx="311.1" cy="306.6" r="2.0" fill="#673df8"/><circle cx="368.2" cy="160.3" r="2.0" fill="#673df8"/><circle cx="414.2" cy="227.5" r="2.0" fill="#673df8"/><circle cx="405.0" cy="226.6" r="2.0" fill="#673df8"/>
</g>
<path class="ax" d="M138.3 86.9 V386.2 H465.8"/>
<path class="ax" d="M230.0 386.2 V396.7"/>
<text class="tk" transform="translate(230.0,432.3) scale(1,1.041)" text-anchor="middle">−10</text>
<path class="ax" d="M339.9 386.2 V396.7"/>
<text class="tk" transform="translate(339.9,432.3) scale(1,1.041)" text-anchor="middle">0</text>
<path class="ax" d="M449.7 386.2 V396.7"/>
<text class="tk" transform="translate(449.7,432.3) scale(1,1.041)" text-anchor="middle">10</text>
<path class="ax" d="M127.7 102.5 H138.3"/>
<text class="tk" transform="translate(117.8,115.6) scale(1,1.041)" text-anchor="end">10</text>
<path class="ax" d="M127.7 206.4 H138.3"/>
<text class="tk" transform="translate(117.8,219.5) scale(1,1.041)" text-anchor="end">0</text>
<path class="ax" d="M127.7 310.3 H138.3"/>
<text class="tk" transform="translate(117.8,323.4) scale(1,1.041)" text-anchor="end">−10</text>
<text class="at" transform="translate(300.3,482.9) scale(1,1.041)" text-anchor="middle">UMAP_1</text>
<text class="at" transform="translate(44.8,238) rotate(-90) scale(1,1.041)" text-anchor="middle">UMAP_2</text>
<rect x="506.5" y="120.6" width="47.5" height="233.1" fill="url(#cbg)"/>
<path class="cbt" d="M506.5 353.7H516.3M544.2 353.7H554.0"/>
<text class="tk" transform="translate(573.4,366.8) scale(1,1.041)">0</text>
<path class="cbt" d="M506.5 287.0H516.3M544.2 287.0H554.0"/>
<text class="tk" transform="translate(573.4,300.1) scale(1,1.041)">2</text>
<path class="cbt" d="M506.5 220.3H516.3M544.2 220.3H554.0"/>
<text class="tk" transform="translate(573.4,233.4) scale(1,1.041)">4</text>
<path class="cbt" d="M506.5 153.6H516.3M544.2 153.6H554.0"/>
<text class="tk" transform="translate(573.4,166.7) scale(1,1.041)">6</text>
</g>
<g transform="translate(1244,0)">
<text class="t" transform="translate(301.5,56.8) scale(1,1.041)">Dcn</text>
<g filter="url(#soft)"><use href="#umap"/>
<g clip-path="url(#uclip)"><g filter="url(#f28)"><use href="#s_M_tear" fill="#784ef5"/></g><g filter="url(#f29)"><use href="#s_M_tear" fill="#4121fc"/></g><g filter="url(#f30)"><use href="#s_M_tear" fill="#cfcad6"/></g><g filter="url(#f31)"><use href="#s_top" fill="#b69ce3"/></g><g filter="url(#f32)"><use href="#s_L_arch" fill="#b69ce3"/><use href="#s_L_bulb" fill="#b69ce3"/><use href="#s_L_band" fill="#b69ce3"/><use href="#s_L_str1" fill="#b69ce3"/><use href="#s_L_str2" fill="#b69ce3"/><use href="#s_L_body" fill="#b69ce3"/><use href="#s_L_tail" fill="#b69ce3"/><use href="#s_L_sm1" fill="#b69ce3"/><use href="#s_L_sm2" fill="#b69ce3"/></g><g filter="url(#f33)"><use href="#s_M_band" fill="#b093e5"/></g><g filter="url(#f34)"><use href="#s_B_trap" fill="#b69ce3"/></g><g filter="url(#f35)"><use href="#s_M_round" fill="#b69ce3"/></g></g><g fill="#fff"><ellipse cx="190.3" cy="233.6" rx="2.2" ry="2.4"/><ellipse cx="369.6" cy="324.4" rx="2.8" ry="1.8"/></g><circle cx="377.4" cy="179.1" r="2.0" fill="#673df8"/><circle cx="368.6" cy="281.2" r="2.0" fill="#673df8"/><circle cx="370.5" cy="331.4" r="2.0" fill="#673df8"/><circle cx="317.3" cy="316.6" r="2.0" fill="#673df8"/><circle cx="319.3" cy="159.0" r="2.2" fill="#a480ea"/><circle cx="385.3" cy="253.6" r="2.2" fill="#a480ea"/><circle cx="359.7" cy="255.5" r="2.2" fill="#a480ea"/><circle cx="381.4" cy="268.4" r="2.2" fill="#a480ea"/>
</g>
<path class="ax" d="M138.3 86.9 V386.2 H465.8"/>
<path class="ax" d="M230.0 386.2 V396.7"/>
<text class="tk" transform="translate(230.0,432.3) scale(1,1.041)" text-anchor="middle">−10</text>
<path class="ax" d="M339.9 386.2 V396.7"/>
<text class="tk" transform="translate(339.9,432.3) scale(1,1.041)" text-anchor="middle">0</text>
<path class="ax" d="M449.7 386.2 V396.7"/>
<text class="tk" transform="translate(449.7,432.3) scale(1,1.041)" text-anchor="middle">10</text>
<path class="ax" d="M127.7 102.5 H138.3"/>
<text class="tk" transform="translate(117.8,115.6) scale(1,1.041)" text-anchor="end">10</text>
<path class="ax" d="M127.7 206.4 H138.3"/>
<text class="tk" transform="translate(117.8,219.5) scale(1,1.041)" text-anchor="end">0</text>
<path class="ax" d="M127.7 310.3 H138.3"/>
<text class="tk" transform="translate(117.8,323.4) scale(1,1.041)" text-anchor="end">−10</text>
<text class="at" transform="translate(300.3,482.9) scale(1,1.041)" text-anchor="middle">UMAP_1</text>
<text class="at" transform="translate(44.8,238) rotate(-90) scale(1,1.041)" text-anchor="middle">UMAP_2</text>
<rect x="506.5" y="120.6" width="47.5" height="233.1" fill="url(#cbg)"/>
<path class="cbt" d="M506.5 353.7H516.3M544.2 353.7H554.0"/>
<text class="tk" transform="translate(573.4,366.8) scale(1,1.041)">0</text>
<path class="cbt" d="M506.5 287.7H516.3M544.2 287.7H554.0"/>
<text class="tk" transform="translate(573.4,300.8) scale(1,1.041)">2</text>
<path class="cbt" d="M506.5 221.8H516.3M544.2 221.8H554.0"/>
<text class="tk" transform="translate(573.4,234.9) scale(1,1.041)">4</text>
<path class="cbt" d="M506.5 155.8H516.3M544.2 155.8H554.0"/>
<text class="tk" transform="translate(573.4,168.9) scale(1,1.041)">6</text>
</g>
<g transform="translate(0,513)">
<text class="t" transform="translate(301.5,56.8) scale(1,1.041)">Cldn5</text>
<g filter="url(#soft)"><use href="#umap"/>
<g clip-path="url(#uclip)"><g filter="url(#f36)"><use href="#s_B_trap" fill="#784ef5"/></g><g filter="url(#f37)"><use href="#s_B_trap" fill="#4121fc"/></g><g filter="url(#f38)"><use href="#s_B_trap" fill="#d0cdd5"/></g><g filter="url(#f39)"><polygon fill="#673df8" points="316.3,306.6 321.3,306.3 324.0,309.9 329.9,311.8 328.8,315.3 322.2,316.2 316.7,314.7"/></g></g><g fill="#fff"><ellipse cx="190.3" cy="233.6" rx="2.2" ry="2.4"/><ellipse cx="369.6" cy="324.4" rx="2.8" ry="1.8"/></g><circle cx="395.8" cy="132.7" r="2.0" fill="#784ef5"/><circle cx="375.6" cy="150.2" r="2.0" fill="#784ef5"/><circle cx="369.1" cy="160.3" r="2.0" fill="#784ef5"/><circle cx="329.5" cy="168.6" r="2.0" fill="#784ef5"/><circle cx="257.8" cy="195.3" r="2.0" fill="#784ef5"/><circle cx="191.5" cy="268.0" r="2.0" fill="#784ef5"/><circle cx="244.0" cy="260.6" r="2.0" fill="#784ef5"/><circle cx="231.1" cy="244.1" r="2.0" fill="#784ef5"/><circle cx="168.5" cy="235.8" r="2.0" fill="#784ef5"/><circle cx="370.0" cy="261.5" r="2.0" fill="#784ef5"/><circle cx="366.4" cy="281.8" r="2.0" fill="#784ef5"/><circle cx="366.4" cy="283.6" r="2.0" fill="#784ef5"/><circle cx="429.8" cy="302.9" r="2.0" fill="#784ef5"/><circle cx="359.9" cy="250.5" r="2.0" fill="#784ef5"/>
</g>
<path class="ax" d="M138.3 86.9 V386.2 H465.8"/>
<path class="ax" d="M230.0 386.2 V396.7"/>
<text class="tk" transform="translate(230.0,432.3) scale(1,1.041)" text-anchor="middle">−10</text>
<path class="ax" d="M339.9 386.2 V396.7"/>
<text class="tk" transform="translate(339.9,432.3) scale(1,1.041)" text-anchor="middle">0</text>
<path class="ax" d="M449.7 386.2 V396.7"/>
<text class="tk" transform="translate(449.7,432.3) scale(1,1.041)" text-anchor="middle">10</text>
<path class="ax" d="M127.7 102.5 H138.3"/>
<text class="tk" transform="translate(117.8,115.6) scale(1,1.041)" text-anchor="end">10</text>
<path class="ax" d="M127.7 206.4 H138.3"/>
<text class="tk" transform="translate(117.8,219.5) scale(1,1.041)" text-anchor="end">0</text>
<path class="ax" d="M127.7 310.3 H138.3"/>
<text class="tk" transform="translate(117.8,323.4) scale(1,1.041)" text-anchor="end">−10</text>
<text class="at" transform="translate(300.3,482.9) scale(1,1.041)" text-anchor="middle">UMAP_1</text>
<text class="at" transform="translate(44.8,238) rotate(-90) scale(1,1.041)" text-anchor="middle">UMAP_2</text>
<rect x="506.5" y="120.6" width="47.5" height="233.1" fill="url(#cbg)"/>
<path class="cbt" d="M506.5 353.7H516.3M544.2 353.7H554.0"/>
<text class="tk" transform="translate(573.4,366.8) scale(1,1.041)">0</text>
<path class="cbt" d="M506.5 308.0H516.3M544.2 308.0H554.0"/>
<text class="tk" transform="translate(573.4,321.1) scale(1,1.041)">1</text>
<path class="cbt" d="M506.5 262.2H516.3M544.2 262.2H554.0"/>
<text class="tk" transform="translate(573.4,275.3) scale(1,1.041)">2</text>
<path class="cbt" d="M506.5 216.5H516.3M544.2 216.5H554.0"/>
<text class="tk" transform="translate(573.4,229.6) scale(1,1.041)">3</text>
<path class="cbt" d="M506.5 170.8H516.3M544.2 170.8H554.0"/>
<text class="tk" transform="translate(573.4,183.9) scale(1,1.041)">4</text>
<path class="cbt" d="M506.5 125.1H516.3M544.2 125.1H554.0"/>
<text class="tk" transform="translate(573.4,138.2) scale(1,1.041)">5</text>
</g>
<g transform="translate(622,513)">
<text class="t" transform="translate(301.5,56.8) scale(1,1.041)">S100a8</text>
<g filter="url(#soft)"><use href="#umap"/>
<g clip-path="url(#uclip)"><g filter="url(#f40)"><polygon fill="#673df8" points="309.3,252.3 313.0,245.9 320.3,238.5 325.9,234.9 327.3,227.5 326.2,223.8 330.5,223.8 331.8,231.2 335.1,234.5 339.7,234.9 331.4,240.7 324.0,248.1 317.0,255.5 312.1,256.6"/></g><g filter="url(#f41)"><polygon fill="#0000ff" points="309.3,252.3 313.0,245.9 320.3,240.4 324.0,242.2 321.3,249.6 317.0,255.5 312.1,256.6"/></g><g filter="url(#f42)"><polygon fill="#cfcad6" points="326.2,223.8 330.5,223.8 331.8,231.2 335.1,234.5 339.7,234.9 331.4,240.7 326.8,236.7"/></g><g filter="url(#f43)"><use href="#s_top" fill="#b69ce3"/></g></g><g fill="#fff"><ellipse cx="190.3" cy="233.6" rx="2.2" ry="2.4"/><ellipse cx="369.6" cy="324.4" rx="2.8" ry="1.8"/></g><circle cx="322.2" cy="179.7" r="2.0" fill="#673df8"/><circle cx="267.0" cy="194.4" r="2.0" fill="#673df8"/><circle cx="211.8" cy="256.9" r="2.0" fill="#673df8"/><circle cx="439.0" cy="233.0" r="2.0" fill="#673df8"/><circle cx="328.6" cy="225.7" r="2.0" fill="#673df8"/><circle cx="365.4" cy="120.8" r="2.0" fill="#673df8"/>
</g>
<path class="ax" d="M138.3 86.9 V386.2 H465.8"/>
<path class="ax" d="M230.0 386.2 V396.7"/>
<text class="tk" transform="translate(230.0,432.3) scale(1,1.041)" text-anchor="middle">−10</text>
<path class="ax" d="M339.9 386.2 V396.7"/>
<text class="tk" transform="translate(339.9,432.3) scale(1,1.041)" text-anchor="middle">0</text>
<path class="ax" d="M449.7 386.2 V396.7"/>
<text class="tk" transform="translate(449.7,432.3) scale(1,1.041)" text-anchor="middle">10</text>
<path class="ax" d="M127.7 102.5 H138.3"/>
<text class="tk" transform="translate(117.8,115.6) scale(1,1.041)" text-anchor="end">10</text>
<path class="ax" d="M127.7 206.4 H138.3"/>
<text class="tk" transform="translate(117.8,219.5) scale(1,1.041)" text-anchor="end">0</text>
<path class="ax" d="M127.7 310.3 H138.3"/>
<text class="tk" transform="translate(117.8,323.4) scale(1,1.041)" text-anchor="end">−10</text>
<text class="at" transform="translate(300.3,482.9) scale(1,1.041)" text-anchor="middle">UMAP_1</text>
<text class="at" transform="translate(44.8,238) rotate(-90) scale(1,1.041)" text-anchor="middle">UMAP_2</text>
<rect x="506.5" y="120.6" width="47.5" height="233.1" fill="url(#cbg)"/>
<path class="cbt" d="M506.5 353.7H516.3M544.2 353.7H554.0"/>
<text class="tk" transform="translate(573.4,366.8) scale(1,1.041)">0</text>
<path class="cbt" d="M506.5 294.2H516.3M544.2 294.2H554.0"/>
<text class="tk" transform="translate(573.4,307.3) scale(1,1.041)">2</text>
<path class="cbt" d="M506.5 234.8H516.3M544.2 234.8H554.0"/>
<text class="tk" transform="translate(573.4,247.9) scale(1,1.041)">4</text>
<path class="cbt" d="M506.5 175.3H516.3M544.2 175.3H554.0"/>
<text class="tk" transform="translate(573.4,188.4) scale(1,1.041)">6</text>
</g>
<g transform="translate(1244,513)">
<text class="t" transform="translate(301.5,56.8) scale(1,1.041)">Tpm2</text>
<g filter="url(#soft)"><use href="#umap"/>
<g clip-path="url(#uclip)"><g filter="url(#f44)"><polygon fill="#5932fa" points="286.3,306.6 292.7,299.3 305.6,297.4 310.2,306.6 306.5,318.6 290.9,316.8"/></g><g filter="url(#f45)"><polygon fill="#855bf2" points="304.7,296.5 319.4,293.7 328.6,314.0 313.9,319.5 305.6,316.8"/></g><g filter="url(#f46)"><polygon fill="#8e65f0" points="337.8,314.9 351.6,315.8 367.3,322.3 367.3,333.3 351.6,333.3 345.2,325.0 338.7,319.9"/></g><g filter="url(#f47)"><polygon fill="#b093e5" points="329.5,332.4 357.2,326.9 360.8,361.8 329.5,361.8"/></g><g filter="url(#f48)"><use href="#s_top" fill="#b69ce3"/></g></g><g fill="#fff"><ellipse cx="190.3" cy="233.6" rx="2.2" ry="2.4"/><ellipse cx="369.6" cy="324.4" rx="2.8" ry="1.8"/></g><circle cx="325.9" cy="176.0" r="2.1" fill="#8e65f0"/><circle cx="397.6" cy="163.1" r="2.1" fill="#8e65f0"/><circle cx="355.3" cy="224.7" r="2.1" fill="#8e65f0"/><circle cx="318.5" cy="247.7" r="2.1" fill="#8e65f0"/><circle cx="367.3" cy="251.4" r="2.1" fill="#8e65f0"/><circle cx="368.2" cy="281.8" r="2.1" fill="#8e65f0"/><circle cx="367.3" cy="283.1" r="2.1" fill="#8e65f0"/><circle cx="427.1" cy="306.6" r="2.1" fill="#8e65f0"/><circle cx="430.8" cy="302.0" r="2.1" fill="#8e65f0"/><circle cx="375.6" cy="324.1" r="2.1" fill="#8e65f0"/><circle cx="349.8" cy="330.6" r="2.1" fill="#8e65f0"/><circle cx="213.6" cy="301.1" r="2.1" fill="#8e65f0"/><circle cx="177.7" cy="235.8" r="2.1" fill="#8e65f0"/><circle cx="416.0" cy="130.0" r="2.1" fill="#8e65f0"/><circle cx="366.4" cy="142.8" r="2.1" fill="#8e65f0"/>
</g>
<path class="ax" d="M138.3 86.9 V386.2 H465.8"/>
<path class="ax" d="M230.0 386.2 V396.7"/>
<text class="tk" transform="translate(230.0,432.3) scale(1,1.041)" text-anchor="middle">−10</text>
<path class="ax" d="M339.9 386.2 V396.7"/>
<text class="tk" transform="translate(339.9,432.3) scale(1,1.041)" text-anchor="middle">0</text>
<path class="ax" d="M449.7 386.2 V396.7"/>
<text class="tk" transform="translate(449.7,432.3) scale(1,1.041)" text-anchor="middle">10</text>
<path class="ax" d="M127.7 102.5 H138.3"/>
<text class="tk" transform="translate(117.8,115.6) scale(1,1.041)" text-anchor="end">10</text>
<path class="ax" d="M127.7 206.4 H138.3"/>
<text class="tk" transform="translate(117.8,219.5) scale(1,1.041)" text-anchor="end">0</text>
<path class="ax" d="M127.7 310.3 H138.3"/>
<text class="tk" transform="translate(117.8,323.4) scale(1,1.041)" text-anchor="end">−10</text>
<text class="at" transform="translate(300.3,482.9) scale(1,1.041)" text-anchor="middle">UMAP_1</text>
<text class="at" transform="translate(44.8,238) rotate(-90) scale(1,1.041)" text-anchor="middle">UMAP_2</text>
<rect x="506.5" y="120.6" width="47.5" height="233.1" fill="url(#cbg)"/>
<path class="cbt" d="M506.5 353.7H516.3M544.2 353.7H554.0"/>
<text class="tk" transform="translate(573.4,366.8) scale(1,1.041)">0</text>
<path class="cbt" d="M506.5 311.9H516.3M544.2 311.9H554.0"/>
<text class="tk" transform="translate(573.4,325.0) scale(1,1.041)">1</text>
<path class="cbt" d="M506.5 270.0H516.3M544.2 270.0H554.0"/>
<text class="tk" transform="translate(573.4,283.1) scale(1,1.041)">2</text>
<path class="cbt" d="M506.5 228.2H516.3M544.2 228.2H554.0"/>
<text class="tk" transform="translate(573.4,241.3) scale(1,1.041)">3</text>
<path class="cbt" d="M506.5 186.4H516.3M544.2 186.4H554.0"/>
<text class="tk" transform="translate(573.4,199.5) scale(1,1.041)">4</text>
<path class="cbt" d="M506.5 144.6H516.3M544.2 144.6H554.0"/>
<text class="tk" transform="translate(573.4,157.7) scale(1,1.041)">5</text>
</g>
<g transform="translate(0,1026)">
<text class="t" transform="translate(301.5,56.8) scale(1,1.041)">Cd74</text>
<g filter="url(#soft)"><use href="#umap"/>
<g clip-path="url(#uclip)"><g filter="url(#f49)"><polygon fill="#6b42f7" points="335.1,222.0 347.9,212.8 356.2,201.7 369.1,206.3 370.0,223.8 397.6,224.7 442.7,230.3 440.0,243.1 416.0,244.1 397.6,235.8 370.0,232.1 342.4,240.4 335.1,239.5"/></g><g filter="url(#f50)"><polygon fill="#3318fd" points="335.1,222.0 347.9,212.8 356.2,201.7 369.1,206.3 370.0,223.8 397.6,224.7 442.7,230.3 440.0,243.1 416.0,244.1 397.6,235.8 370.0,232.1 342.4,240.4 335.1,239.5"/></g><g filter="url(#f51)"><polygon fill="#d0cdd5" points="335.1,222.0 347.9,212.8 356.2,201.7 369.1,206.3 370.0,223.8 397.6,224.7 442.7,230.3 440.0,243.1 416.0,244.1 397.6,235.8 370.0,232.1 342.4,240.4 335.1,239.5"/></g><g filter="url(#f52)"><use href="#s_top" fill="#b093e5"/></g><g filter="url(#f53)"><use href="#s_L_arch" fill="#b69ce3"/><use href="#s_L_bulb" fill="#b69ce3"/><use href="#s_L_band" fill="#b69ce3"/><use href="#s_L_str1" fill="#b69ce3"/><use href="#s_L_str2" fill="#b69ce3"/><use href="#s_L_body" fill="#b69ce3"/><use href="#s_L_tail" fill="#b69ce3"/><use href="#s_L_sm1" fill="#b69ce3"/><use href="#s_L_sm2" fill="#b69ce3"/></g><g filter="url(#f54)"><use href="#s_B_trap" fill="#b093e5"/></g><g filter="url(#f55)"><use href="#s_M_tear" fill="#b69ce3"/></g><g filter="url(#f56)"><use href="#s_B_small" fill="#b69ce3"/></g></g><g fill="#fff"><ellipse cx="190.3" cy="233.6" rx="2.2" ry="2.4"/><ellipse cx="369.6" cy="324.4" rx="2.8" ry="1.8"/></g><circle cx="388.4" cy="169.5" r="2.0" fill="#673df8"/><circle cx="376.5" cy="129.0" r="2.0" fill="#673df8"/><circle cx="221.9" cy="268.9" r="2.0" fill="#673df8"/><circle cx="435.4" cy="286.4" r="2.0" fill="#673df8"/><circle cx="427.1" cy="306.6" r="2.0" fill="#673df8"/><circle cx="436.3" cy="308.5" r="2.0" fill="#673df8"/><circle cx="363.6" cy="336.1" r="2.0" fill="#673df8"/><circle cx="377.4" cy="341.6" r="2.0" fill="#673df8"/><circle cx="394.9" cy="136.4" r="2.0" fill="#673df8"/><circle cx="320.3" cy="247.7" r="2.2" fill="#a480ea"/><circle cx="363.6" cy="248.7" r="2.2" fill="#a480ea"/>
</g>
<path class="ax" d="M138.3 86.9 V386.2 H465.8"/>
<path class="ax" d="M230.0 386.2 V396.7"/>
<text class="tk" transform="translate(230.0,432.3) scale(1,1.041)" text-anchor="middle">−10</text>
<path class="ax" d="M339.9 386.2 V396.7"/>
<text class="tk" transform="translate(339.9,432.3) scale(1,1.041)" text-anchor="middle">0</text>
<path class="ax" d="M449.7 386.2 V396.7"/>
<text class="tk" transform="translate(449.7,432.3) scale(1,1.041)" text-anchor="middle">10</text>
<path class="ax" d="M127.7 102.5 H138.3"/>
<text class="tk" transform="translate(117.8,115.6) scale(1,1.041)" text-anchor="end">10</text>
<path class="ax" d="M127.7 206.4 H138.3"/>
<text class="tk" transform="translate(117.8,219.5) scale(1,1.041)" text-anchor="end">0</text>
<path class="ax" d="M127.7 310.3 H138.3"/>
<text class="tk" transform="translate(117.8,323.4) scale(1,1.041)" text-anchor="end">−10</text>
<text class="at" transform="translate(300.3,482.9) scale(1,1.041)" text-anchor="middle">UMAP_1</text>
<text class="at" transform="translate(44.8,238) rotate(-90) scale(1,1.041)" text-anchor="middle">UMAP_2</text>
<rect x="506.5" y="120.6" width="47.5" height="233.1" fill="url(#cbg)"/>
<path class="cbt" d="M506.5 353.7H516.3M544.2 353.7H554.0"/>
<text class="tk" transform="translate(573.4,366.8) scale(1,1.041)">0</text>
<path class="cbt" d="M506.5 286.9H516.3M544.2 286.9H554.0"/>
<text class="tk" transform="translate(573.4,300.0) scale(1,1.041)">2</text>
<path class="cbt" d="M506.5 220.1H516.3M544.2 220.1H554.0"/>
<text class="tk" transform="translate(573.4,233.2) scale(1,1.041)">4</text>
<path class="cbt" d="M506.5 153.3H516.3M544.2 153.3H554.0"/>
<text class="tk" transform="translate(573.4,166.4) scale(1,1.041)">6</text>
</g>
<g transform="translate(622,1026)">
<text class="t" transform="translate(301.5,56.8) scale(1,1.041)">Hba−a1</text>
<g filter="url(#soft)"><use href="#umap"/>
<g clip-path="url(#uclip)"><g filter="url(#f57)"><polygon fill="#4926fb" points="301.9,174.1 313.0,168.6 324.0,162.2 329.5,162.7 331.4,172.3 330.5,181.5 324.9,184.8 320.7,178.2 311.1,178.2 304.3,178.2"/></g><g filter="url(#f58)"><use href="#s_top" fill="#b69ce3"/></g><g filter="url(#f59)"><use href="#s_B_trap" fill="#b69ce3"/></g></g><g fill="#fff"><ellipse cx="190.3" cy="233.6" rx="2.2" ry="2.4"/><ellipse cx="369.6" cy="324.4" rx="2.8" ry="1.8"/></g><circle cx="335.1" cy="159.4" r="2.0" fill="#2710fe"/><circle cx="369.1" cy="166.8" r="2.0" fill="#2710fe"/><circle cx="383.8" cy="168.6" r="2.0" fill="#2710fe"/><circle cx="328.6" cy="222.0" r="2.0" fill="#2710fe"/><circle cx="327.7" cy="221.6" r="2.0" fill="#2710fe"/><circle cx="342.4" cy="349.0" r="2.0" fill="#2710fe"/><circle cx="344.3" cy="347.1" r="2.0" fill="#2710fe"/><circle cx="290.9" cy="180.6" r="2.0" fill="#2710fe"/><circle cx="268.3" cy="185.5" r="2.0" fill="#2710fe"/>
</g>
<path class="ax" d="M138.3 86.9 V386.2 H465.8"/>
<path class="ax" d="M230.0 386.2 V396.7"/>
<text class="tk" transform="translate(230.0,432.3) scale(1,1.041)" text-anchor="middle">−10</text>
<path class="ax" d="M339.9 386.2 V396.7"/>
<text class="tk" transform="translate(339.9,432.3) scale(1,1.041)" text-anchor="middle">0</text>
<path class="ax" d="M449.7 386.2 V396.7"/>
<text class="tk" transform="translate(449.7,432.3) scale(1,1.041)" text-anchor="middle">10</text>
<path class="ax" d="M127.7 102.5 H138.3"/>
<text class="tk" transform="translate(117.8,115.6) scale(1,1.041)" text-anchor="end">10</text>
<path class="ax" d="M127.7 206.4 H138.3"/>
<text class="tk" transform="translate(117.8,219.5) scale(1,1.041)" text-anchor="end">0</text>
<path class="ax" d="M127.7 310.3 H138.3"/>
<text class="tk" transform="translate(117.8,323.4) scale(1,1.041)" text-anchor="end">−10</text>
<text class="at" transform="translate(300.3,482.9) scale(1,1.041)" text-anchor="middle">UMAP_1</text>
<text class="at" transform="translate(44.8,238) rotate(-90) scale(1,1.041)" text-anchor="middle">UMAP_2</text>
<rect x="506.5" y="120.6" width="47.5" height="233.1" fill="url(#cbg)"/>
<path class="cbt" d="M506.5 353.7H516.3M544.2 353.7H554.0"/>
<text class="tk" transform="translate(573.4,366.8) scale(1,1.041)">0</text>
<path class="cbt" d="M506.5 295.7H516.3M544.2 295.7H554.0"/>
<text class="tk" transform="translate(573.4,308.8) scale(1,1.041)">2</text>
<path class="cbt" d="M506.5 237.7H516.3M544.2 237.7H554.0"/>
<text class="tk" transform="translate(573.4,250.8) scale(1,1.041)">4</text>
<path class="cbt" d="M506.5 179.7H516.3M544.2 179.7H554.0"/>
<text class="tk" transform="translate(573.4,192.8) scale(1,1.041)">6</text>
<path class="cbt" d="M506.5 121.7H516.3M544.2 121.7H554.0"/>
<text class="tk" transform="translate(573.4,134.8) scale(1,1.041)">8</text>
</g>
<g transform="translate(1244,1026)">
<text class="t" transform="translate(301.5,56.8) scale(1,1.041)">Snap25</text>
<g filter="url(#soft)"><use href="#umap"/>
<g clip-path="url(#uclip)"><g filter="url(#f60)"><use href="#s_top" fill="#aa89e7"/></g><g filter="url(#f61)"><use href="#s_top" fill="#9168ef"/></g><g filter="url(#f62)"><polygon fill="#a480ea" points="243.1,198.1 257.8,181.5 285.4,174.1 287.2,150.2 301.9,141.0 324.0,136.4 342.4,130.0 347.9,141.0 342.4,148.4 333.2,155.7 324.0,164.9 305.6,169.5 293.7,174.1 289.4,187.0 288.1,209.1 268.8,222.9 250.4,216.5"/></g><g filter="url(#f63)"><use href="#s_L_arch" fill="#aa89e7"/><use href="#s_L_bulb" fill="#aa89e7"/><use href="#s_L_band" fill="#aa89e7"/><use href="#s_L_str1" fill="#aa89e7"/><use href="#s_L_str2" fill="#aa89e7"/><use href="#s_L_body" fill="#aa89e7"/><use href="#s_L_tail" fill="#aa89e7"/><use href="#s_L_sm1" fill="#aa89e7"/><use href="#s_L_sm2" fill="#aa89e7"/></g><g filter="url(#f64)"><use href="#s_L_arch" fill="#966eee"/><use href="#s_L_bulb" fill="#966eee"/><use href="#s_L_band" fill="#966eee"/><use href="#s_L_str1" fill="#966eee"/><use href="#s_L_str2" fill="#966eee"/><use href="#s_L_body" fill="#966eee"/><use href="#s_L_tail" fill="#966eee"/><use href="#s_L_sm1" fill="#966eee"/><use href="#s_L_sm2" fill="#966eee"/></g><g filter="url(#f65)"><use href="#s_M_band" fill="#aa89e7"/></g><g filter="url(#f66)"><use href="#s_M_band" fill="#8e65f0"/></g><g filter="url(#f67)"><use href="#s_M_round" fill="#7248f6"/></g><g filter="url(#f68)"><use href="#s_M_round" fill="#4121fc"/></g><g filter="url(#f69)"><use href="#s_M_round" fill="#cfcad6"/></g><g filter="url(#f70)"><use href="#s_M_tear" fill="#aa89e7"/></g><g filter="url(#f71)"><use href="#s_B_small" fill="#a480ea"/></g><g filter="url(#f72)"><use href="#s_B_trap" fill="#aa89e7"/></g><g filter="url(#f73)"><use href="#s_B_trap" fill="#8e65f0"/></g></g><g fill="#fff"><ellipse cx="190.3" cy="233.6" rx="2.2" ry="2.4"/><ellipse cx="369.6" cy="324.4" rx="2.8" ry="1.8"/></g><circle cx="365.4" cy="159.4" r="2.0" fill="#673df8"/><circle cx="377.4" cy="178.7" r="2.0" fill="#673df8"/><circle cx="268.8" cy="189.8" r="2.0" fill="#673df8"/><circle cx="305.6" cy="176.0" r="2.0" fill="#673df8"/><circle cx="439.0" cy="233.0" r="2.0" fill="#673df8"/>
</g>
<path class="ax" d="M138.3 86.9 V386.2 H465.8"/>
<path class="ax" d="M230.0 386.2 V396.7"/>
<text class="tk" transform="translate(230.0,432.3) scale(1,1.041)" text-anchor="middle">−10</text>
<path class="ax" d="M339.9 386.2 V396.7"/>
<text class="tk" transform="translate(339.9,432.3) scale(1,1.041)" text-anchor="middle">0</text>
<path class="ax" d="M449.7 386.2 V396.7"/>
<text class="tk" transform="translate(449.7,432.3) scale(1,1.041)" text-anchor="middle">10</text>
<path class="ax" d="M127.7 102.5 H138.3"/>
<text class="tk" transform="translate(117.8,115.6) scale(1,1.041)" text-anchor="end">10</text>
<path class="ax" d="M127.7 206.4 H138.3"/>
<text class="tk" transform="translate(117.8,219.5) scale(1,1.041)" text-anchor="end">0</text>
<path class="ax" d="M127.7 310.3 H138.3"/>
<text class="tk" transform="translate(117.8,323.4) scale(1,1.041)" text-anchor="end">−10</text>
<text class="at" transform="translate(300.3,482.9) scale(1,1.041)" text-anchor="middle">UMAP_1</text>
<text class="at" transform="translate(44.8,238) rotate(-90) scale(1,1.041)" text-anchor="middle">UMAP_2</text>
<rect x="506.5" y="120.6" width="47.5" height="233.1" fill="url(#cbg)"/>
<path class="cbt" d="M506.5 353.7H516.3M544.2 353.7H554.0"/>
<text class="tk" transform="translate(573.4,366.8) scale(1,1.041)">0</text>
<path class="cbt" d="M506.5 307.3H516.3M544.2 307.3H554.0"/>
<text class="tk" transform="translate(573.4,320.4) scale(1,1.041)">1</text>
<path class="cbt" d="M506.5 260.8H516.3M544.2 260.8H554.0"/>
<text class="tk" transform="translate(573.4,273.9) scale(1,1.041)">2</text>
<path class="cbt" d="M506.5 214.4H516.3M544.2 214.4H554.0"/>
<text class="tk" transform="translate(573.4,227.5) scale(1,1.041)">3</text>
<path class="cbt" d="M506.5 168.0H516.3M544.2 168.0H554.0"/>
<text class="tk" transform="translate(573.4,181.1) scale(1,1.041)">4</text>
<path class="cbt" d="M506.5 121.5H516.3M544.2 121.5H554.0"/>
<text class="tk" transform="translate(573.4,134.6) scale(1,1.041)">5</text>
</g>
</svg>
</body></html>
